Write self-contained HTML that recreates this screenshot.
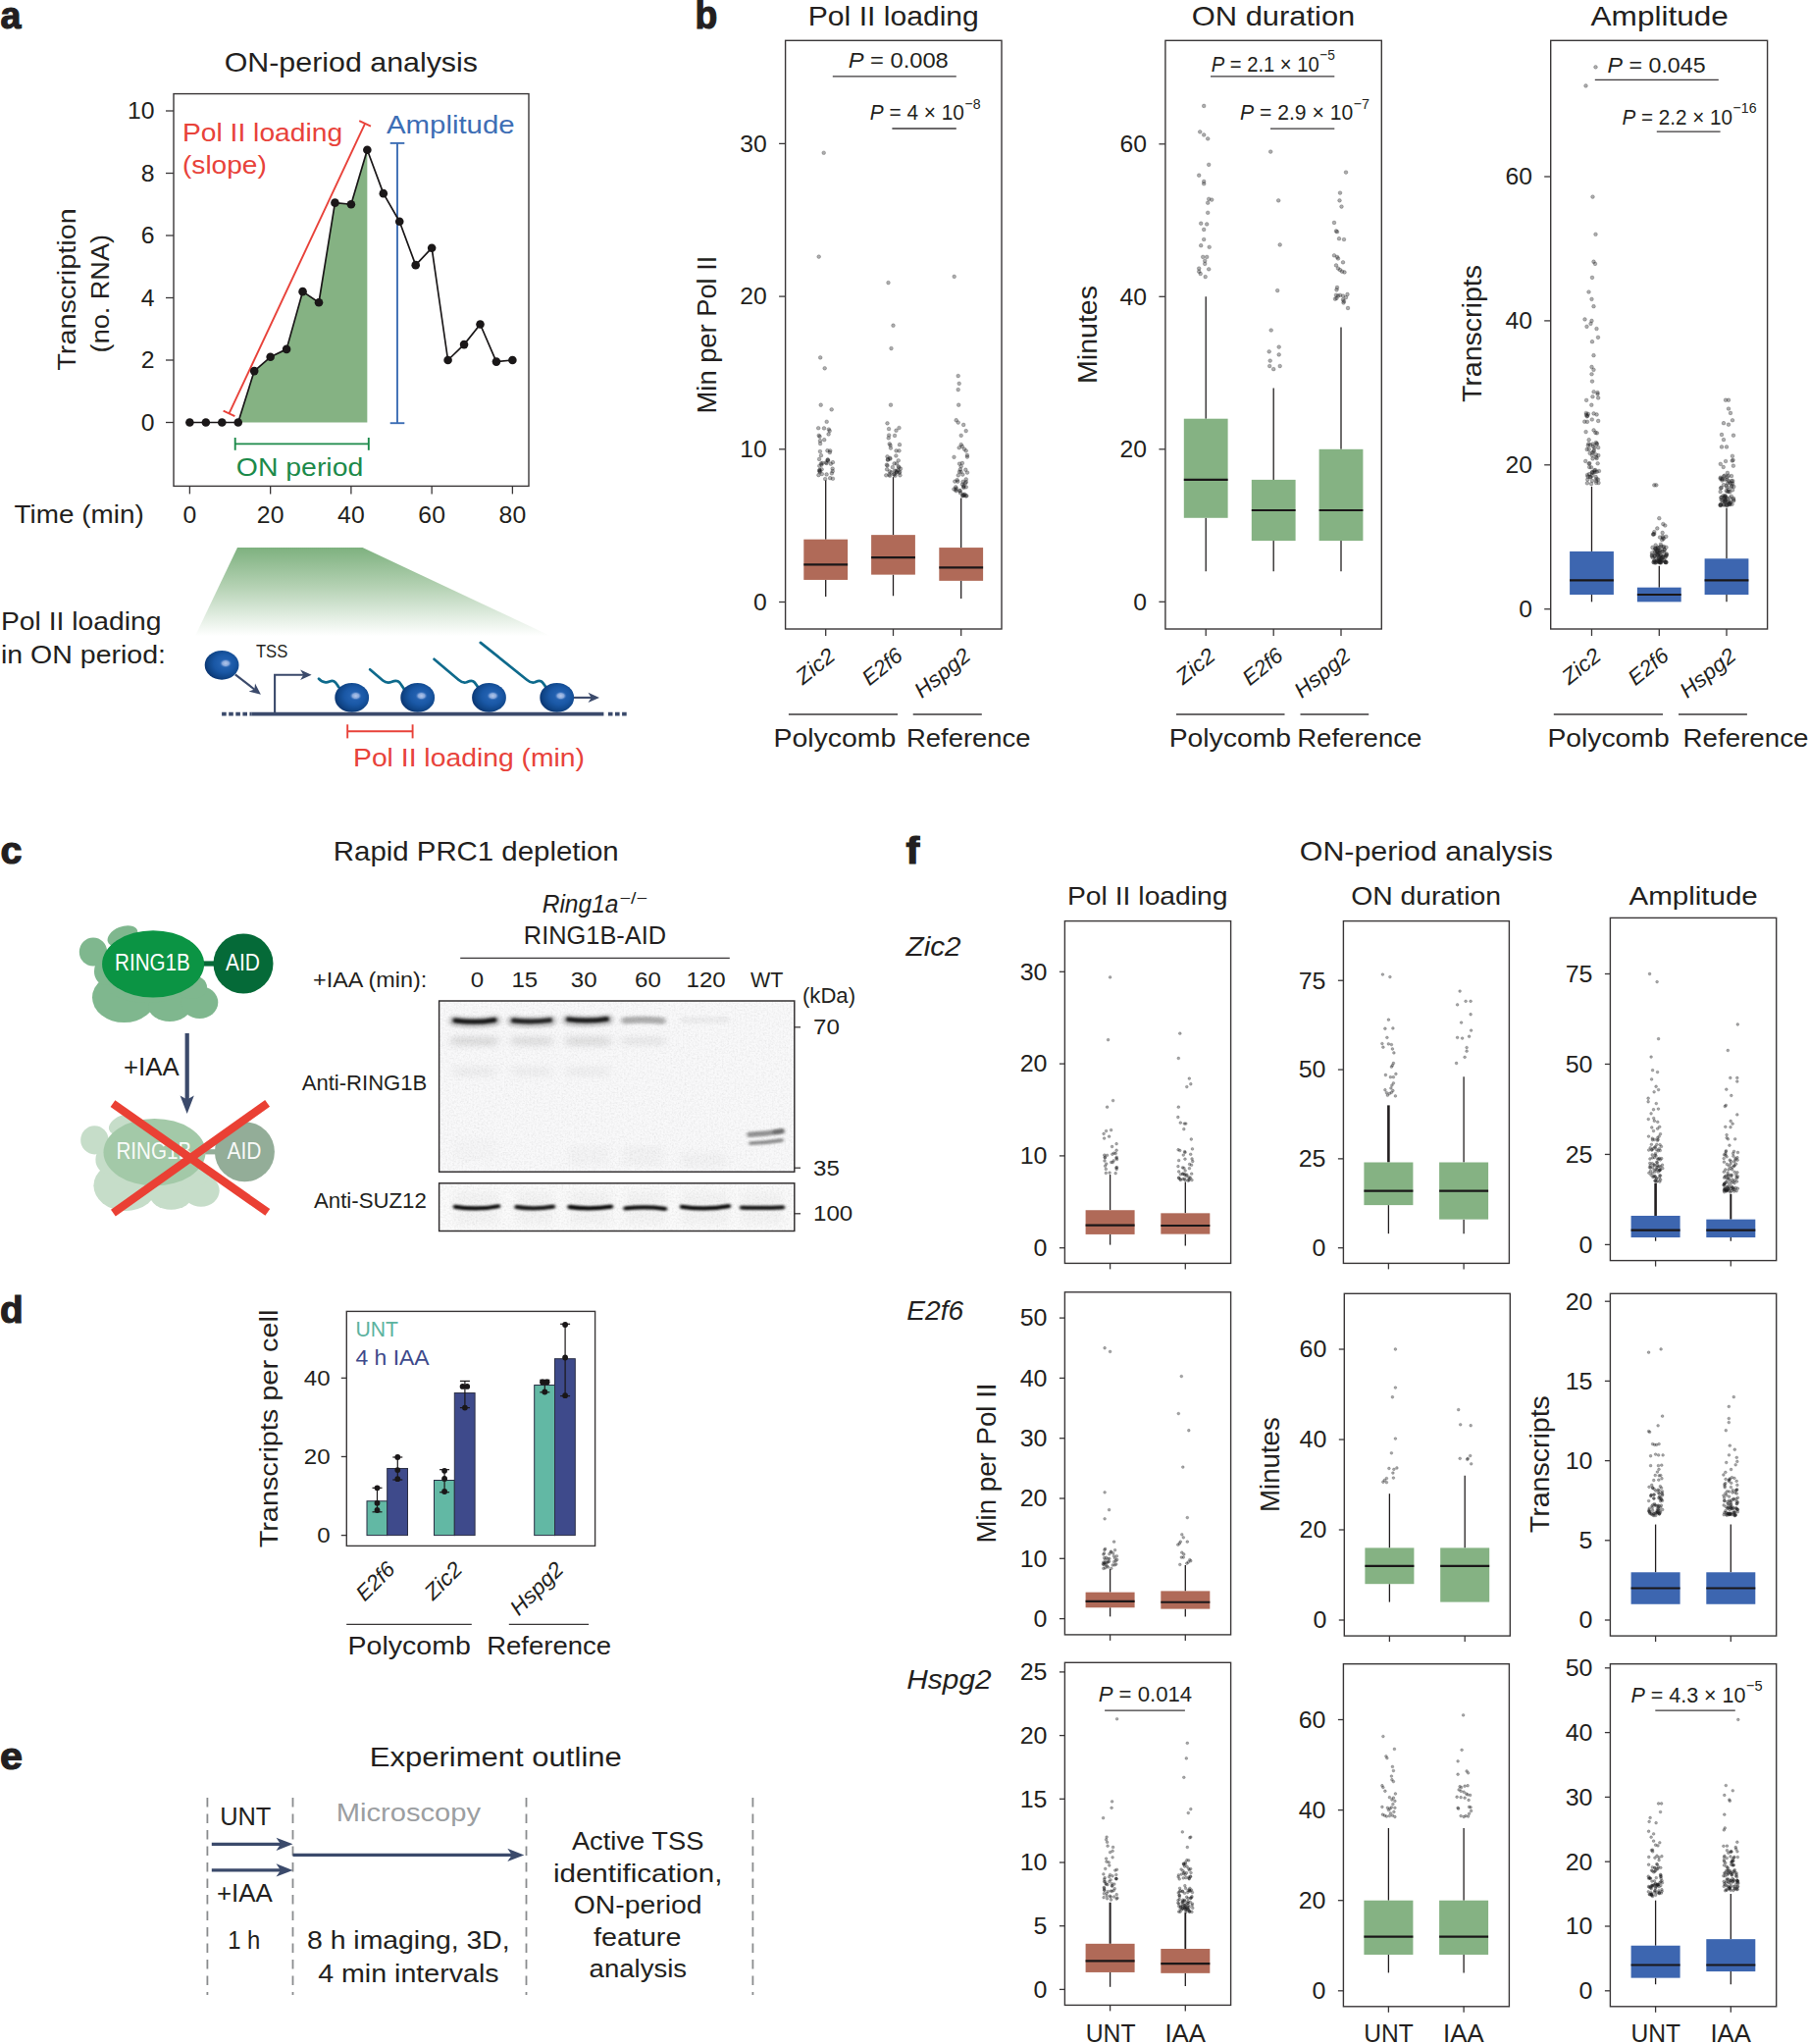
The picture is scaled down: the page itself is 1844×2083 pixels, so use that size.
<!DOCTYPE html>
<html lang="en"><head><meta charset="utf-8"><title>Figure</title>
<style>
html,body{margin:0;padding:0;background:#fff}
body{width:1844px;height:2083px;overflow:hidden}
svg{display:block;font-family:"Liberation Sans",sans-serif;fill:#231f20}
svg text{white-space:pre}
</style></head><body>
<svg width="1844" height="2083" viewBox="0 0 1844 2083">
<rect width="1844" height="2083" fill="#ffffff"/>
<text x="0.4" y="29.2" font-size="39.5" textLength="20.9" lengthAdjust="spacingAndGlyphs" font-weight="bold" stroke="#231f20" stroke-width="1.2">a</text>
<text x="228.7" y="73" font-size="28" textLength="258.3" lengthAdjust="spacingAndGlyphs">ON-period analysis</text>
<polygon points="242.75,430.5 242.75,430.5 259.2,378.11 275.65,363.82 292.1,355.89 308.55,297.15 325,308.26 341.45,206.66 357.9,208.25 374.35,152.69 374.35,430.5" fill="#85b283"/>
<rect x="177" y="95.6" width="362" height="399.8" fill="none" stroke="#3a3738" stroke-width="1.4"/>
<line x1="169" y1="430.5" x2="177" y2="430.5" stroke="#3a3738" stroke-width="1.3"/>
<text x="143.81" y="438.9" font-size="23.4" textLength="13.79" lengthAdjust="spacingAndGlyphs">0</text>
<line x1="169" y1="367" x2="177" y2="367" stroke="#3a3738" stroke-width="1.3"/>
<text x="143.81" y="375.4" font-size="23.4" textLength="13.79" lengthAdjust="spacingAndGlyphs">2</text>
<line x1="169" y1="303.5" x2="177" y2="303.5" stroke="#3a3738" stroke-width="1.3"/>
<text x="143.81" y="311.9" font-size="23.4" textLength="13.79" lengthAdjust="spacingAndGlyphs">4</text>
<line x1="169" y1="240" x2="177" y2="240" stroke="#3a3738" stroke-width="1.3"/>
<text x="143.81" y="248.4" font-size="23.4" textLength="13.79" lengthAdjust="spacingAndGlyphs">6</text>
<line x1="169" y1="176.5" x2="177" y2="176.5" stroke="#3a3738" stroke-width="1.3"/>
<text x="143.81" y="184.9" font-size="23.4" textLength="13.79" lengthAdjust="spacingAndGlyphs">8</text>
<line x1="169" y1="113" x2="177" y2="113" stroke="#3a3738" stroke-width="1.3"/>
<text x="130.01" y="121.4" font-size="23.4" textLength="27.59" lengthAdjust="spacingAndGlyphs">10</text>
<line x1="193.4" y1="495.4" x2="193.4" y2="503.4" stroke="#3a3738" stroke-width="1.3"/>
<text x="186.5" y="532.6" font-size="23.4" textLength="13.79" lengthAdjust="spacingAndGlyphs">0</text>
<line x1="275.65" y1="495.4" x2="275.65" y2="503.4" stroke="#3a3738" stroke-width="1.3"/>
<text x="261.86" y="532.6" font-size="23.4" textLength="27.59" lengthAdjust="spacingAndGlyphs">20</text>
<line x1="357.9" y1="495.4" x2="357.9" y2="503.4" stroke="#3a3738" stroke-width="1.3"/>
<text x="344.11" y="532.6" font-size="23.4" textLength="27.59" lengthAdjust="spacingAndGlyphs">40</text>
<line x1="440.15" y1="495.4" x2="440.15" y2="503.4" stroke="#3a3738" stroke-width="1.3"/>
<text x="426.36" y="532.6" font-size="23.4" textLength="27.59" lengthAdjust="spacingAndGlyphs">60</text>
<line x1="522.4" y1="495.4" x2="522.4" y2="503.4" stroke="#3a3738" stroke-width="1.3"/>
<text x="508.61" y="532.6" font-size="23.4" textLength="27.59" lengthAdjust="spacingAndGlyphs">80</text>
<g transform="translate(77.3,295) rotate(-90)">
<text x="-82.65" y="0" font-size="26" textLength="165.3" lengthAdjust="spacingAndGlyphs">Transcription</text>
</g>
<g transform="translate(110.5,299.2) rotate(-90)">
<text x="-60.2" y="0" font-size="26" textLength="120.4" lengthAdjust="spacingAndGlyphs">(no. RNA)</text>
</g>
<text x="14.6" y="533.4" font-size="26.5" textLength="132.1" lengthAdjust="spacingAndGlyphs">Time (min)</text>
<line x1="233.5" y1="421.4" x2="372.1" y2="125.9" stroke="#e8423a" stroke-width="1.9"/>
<line x1="227.62" y1="418.64" x2="239.38" y2="424.16" stroke="#e8423a" stroke-width="1.9"/>
<line x1="366.22" y1="123.14" x2="377.98" y2="128.66" stroke="#e8423a" stroke-width="1.9"/>
<line x1="405" y1="145.9" x2="405" y2="431.2" stroke="#3d6eb5" stroke-width="1.9"/>
<line x1="397.7" y1="145.9" x2="412.3" y2="145.9" stroke="#3d6eb5" stroke-width="1.9"/>
<line x1="397.7" y1="431.2" x2="412.3" y2="431.2" stroke="#3d6eb5" stroke-width="1.9"/>
<line x1="239.7" y1="452.4" x2="375.8" y2="452.4" stroke="#1c8a4a" stroke-width="1.9"/>
<line x1="239.7" y1="446" x2="239.7" y2="458.8" stroke="#1c8a4a" stroke-width="1.9"/>
<line x1="375.8" y1="446" x2="375.8" y2="458.8" stroke="#1c8a4a" stroke-width="1.9"/>
<polyline points="193.4,430.5 209.85,430.5 226.3,430.5 242.75,430.5 259.2,378.11 275.65,363.82 292.1,355.89 308.55,297.15 325,308.26 341.45,206.66 357.9,208.25 374.35,152.69 390.8,197.14 407.25,225.71 423.7,270.16 440.15,252.7 456.6,367 473.05,351.12 489.5,330.49 505.95,368.59 522.4,367" fill="none" stroke="#1a1718" stroke-width="1.7" stroke-linejoin="round"/>
<g fill="#1a1718"><circle cx="193.4" cy="430.5" r="4.3"/><circle cx="209.85" cy="430.5" r="4.3"/><circle cx="226.3" cy="430.5" r="4.3"/><circle cx="242.75" cy="430.5" r="4.3"/><circle cx="259.2" cy="378.11" r="4.3"/><circle cx="275.65" cy="363.82" r="4.3"/><circle cx="292.1" cy="355.89" r="4.3"/><circle cx="308.55" cy="297.15" r="4.3"/><circle cx="325" cy="308.26" r="4.3"/><circle cx="341.45" cy="206.66" r="4.3"/><circle cx="357.9" cy="208.25" r="4.3"/><circle cx="374.35" cy="152.69" r="4.3"/><circle cx="390.8" cy="197.14" r="4.3"/><circle cx="407.25" cy="225.71" r="4.3"/><circle cx="423.7" cy="270.16" r="4.3"/><circle cx="440.15" cy="252.7" r="4.3"/><circle cx="456.6" cy="367" r="4.3"/><circle cx="473.05" cy="351.12" r="4.3"/><circle cx="489.5" cy="330.49" r="4.3"/><circle cx="505.95" cy="368.59" r="4.3"/><circle cx="522.4" cy="367" r="4.3"/></g>
<text x="186" y="144.1" font-size="26.3" textLength="163.1" lengthAdjust="spacingAndGlyphs" fill="#e8423a">Pol II loading</text>
<text x="186" y="177" font-size="26.3" textLength="85.8" lengthAdjust="spacingAndGlyphs" fill="#e8423a">(slope)</text>
<text x="394" y="135.7" font-size="26.3" textLength="130.6" lengthAdjust="spacingAndGlyphs" fill="#3d6eb5">Amplitude</text>
<text x="240.8" y="484.5" font-size="26.3" textLength="129.5" lengthAdjust="spacingAndGlyphs" fill="#1c8a4a">ON period</text>
<defs><linearGradient id="gtrap" x1="0" y1="0" x2="0" y2="1"><stop offset="0" stop-color="#7eb17f"/><stop offset="0.45" stop-color="#b5d2b4"/><stop offset="1" stop-color="#ffffff"/></linearGradient><radialGradient id="ball" cx="0.58" cy="0.44" r="0.6"><stop offset="0" stop-color="#2a68b8"/><stop offset="0.5" stop-color="#1a58a6"/><stop offset="0.8" stop-color="#104689"/><stop offset="1" stop-color="#0a3470"/></radialGradient><radialGradient id="hl"><stop offset="0" stop-color="#b4c8ea"/><stop offset="0.55" stop-color="#86a6da"/><stop offset="1" stop-color="#2a68b8" stop-opacity="0"/></radialGradient><marker id="arr" viewBox="0 0 10 10" refX="7" refY="5" markerWidth="5.2" markerHeight="5.2" orient="auto-start-reverse"><path d="M0 0.6L10 5L0 9.4L2.6 5z" fill="#3b4a6b"/></marker></defs>
<polygon points="242,558 369.6,558 561,648 199,648" fill="url(#gtrap)"/>
<text x="1" y="642" font-size="26.5" textLength="163.5" lengthAdjust="spacingAndGlyphs">Pol II loading</text>
<text x="1" y="675.5" font-size="26.5" textLength="168" lengthAdjust="spacingAndGlyphs">in ON period:</text>
<text x="260.9" y="669.9" font-size="17.5" textLength="32.4" lengthAdjust="spacingAndGlyphs">TSS</text>
<line x1="256.7" y1="727.6" x2="615.4" y2="727.6" stroke="#3b4a6b" stroke-width="3.8"/>
<line x1="226.1" y1="727.6" x2="256.7" y2="727.6" stroke="#3b4a6b" stroke-width="3.8" stroke-dasharray="4.6 2.5"/>
<line x1="619.9" y1="727.6" x2="639.5" y2="727.6" stroke="#3b4a6b" stroke-width="3.8" stroke-dasharray="4.6 2.5"/>
<path d="M280.1 726V687.8H310" fill="none" stroke="#3b4a6b" stroke-width="2.1"/>
<path d="M317.6 687.8L306.1 682.6L309.3 687.8L306.1 693z" fill="#3b4a6b"/>
<path d="M239.8 687.3L259.6 702.77" fill="none" stroke="#3b4a6b" stroke-width="2.1"/>
<path d="M265.9 707.7L260.04 696.52L259.36 702.59L253.64 704.72z" fill="#3b4a6b"/>
<path d="M583 710.9H603" fill="none" stroke="#3b4a6b" stroke-width="2.1"/>
<path d="M611 710.9L599.5 705.7L602.7 710.9L599.5 716.1z" fill="#3b4a6b"/>
<path d="M324.9 691.7Q328.2 695.6 332.5 695.3C336 695 337.5 692.8 340.3 694.2C343 695.6 343.6 698 345.5 700.5" fill="none" stroke="#0e6a8c" stroke-width="2.7" stroke-linecap="round" stroke-linejoin="round"/>
<path d="M377.1 682.3L390.3 693.5C393.5 696.2 396.5 696 399.5 694.8C402.5 693.5 405 693 407.3 695.5C409 697.5 410.3 700 412 702.5" fill="none" stroke="#0e6a8c" stroke-width="2.7" stroke-linecap="round" stroke-linejoin="round"/>
<path d="M442.5 671.8L467.4 692.7C470.5 695.3 473 696.3 475.5 695.3C478.5 694 481 692.6 483.3 695C485 696.8 486.3 699 488 701.5" fill="none" stroke="#0e6a8c" stroke-width="2.7" stroke-linecap="round" stroke-linejoin="round"/>
<path d="M489.8 654.9L537 692.7C540 695.2 542.5 696.3 545 695.3C548 694 550.5 692.6 552.6 695C554.3 696.8 555.6 699 557.3 701.5" fill="none" stroke="#0e6a8c" stroke-width="2.7" stroke-linecap="round" stroke-linejoin="round"/>
<ellipse cx="226.1" cy="677.8" rx="17.4" ry="14.9" fill="url(#ball)"/>
<ellipse cx="230.0" cy="676.0" rx="6.3" ry="4.6" fill="url(#hl)"/>
<ellipse cx="358.7" cy="710.9" rx="17.4" ry="14.9" fill="url(#ball)"/>
<ellipse cx="362.59999999999997" cy="709.1" rx="6.3" ry="4.6" fill="url(#hl)"/>
<ellipse cx="425.7" cy="710.9" rx="17.4" ry="14.9" fill="url(#ball)"/>
<ellipse cx="429.59999999999997" cy="709.1" rx="6.3" ry="4.6" fill="url(#hl)"/>
<ellipse cx="498.5" cy="710.9" rx="17.4" ry="14.9" fill="url(#ball)"/>
<ellipse cx="502.4" cy="709.1" rx="6.3" ry="4.6" fill="url(#hl)"/>
<ellipse cx="567.7" cy="710.9" rx="17.4" ry="14.9" fill="url(#ball)"/>
<ellipse cx="571.6" cy="709.1" rx="6.3" ry="4.6" fill="url(#hl)"/>
<line x1="354.2" y1="745.2" x2="420.6" y2="745.2" stroke="#e8423a" stroke-width="1.9"/>
<line x1="354.2" y1="738.3" x2="354.2" y2="752.4" stroke="#e8423a" stroke-width="1.9"/>
<line x1="420.6" y1="738.3" x2="420.6" y2="752.4" stroke="#e8423a" stroke-width="1.9"/>
<text x="360" y="781" font-size="26" textLength="236" lengthAdjust="spacingAndGlyphs" fill="#e8423a">Pol II loading (min)</text>
<text x="708.4" y="29.2" font-size="40" textLength="22.8" lengthAdjust="spacingAndGlyphs" font-weight="bold" stroke="#231f20" stroke-width="1.2">b</text>
<text x="823.8" y="26" font-size="28" textLength="174" lengthAdjust="spacingAndGlyphs">Pol II loading</text>
<rect x="800.6" y="41.3" width="220.4" height="599.7" fill="none" stroke="#3a3738" stroke-width="1.4"/>
<line x1="794.1" y1="613.5" x2="800.6" y2="613.5" stroke="#3a3738" stroke-width="1.3"/>
<text x="768.07" y="621.85" font-size="23.3" textLength="13.73" lengthAdjust="spacingAndGlyphs">0</text>
<line x1="794.1" y1="457.8" x2="800.6" y2="457.8" stroke="#3a3738" stroke-width="1.3"/>
<text x="754.33" y="466.15" font-size="23.3" textLength="27.47" lengthAdjust="spacingAndGlyphs">10</text>
<line x1="794.1" y1="302.1" x2="800.6" y2="302.1" stroke="#3a3738" stroke-width="1.3"/>
<text x="754.33" y="310.45" font-size="23.3" textLength="27.47" lengthAdjust="spacingAndGlyphs">20</text>
<line x1="794.1" y1="146.4" x2="800.6" y2="146.4" stroke="#3a3738" stroke-width="1.3"/>
<text x="754.33" y="154.75" font-size="23.3" textLength="27.47" lengthAdjust="spacingAndGlyphs">30</text>
<line x1="841.7" y1="641" x2="841.7" y2="648" stroke="#3a3738" stroke-width="1.3"/>
<g fill="#1d1d1f" fill-opacity="0.36" stroke="#1d1d1f" stroke-opacity="0.27" stroke-width="0.9"><circle cx="839.7" cy="155.74" r="1.85"/><circle cx="834.7" cy="261.62" r="1.85"/><circle cx="836.2" cy="364.38" r="1.85"/><circle cx="840.7" cy="375.28" r="1.85"/><circle cx="836.7" cy="412.65" r="1.85"/><circle cx="847.7" cy="417.32" r="1.85"/><circle cx="842.7" cy="429.77" r="1.85"/><circle cx="845.7" cy="439.12" r="1.85"/><circle cx="834.7" cy="443.79" r="1.85"/><circle cx="846.2" cy="459.36" r="1.85"/><circle cx="842.6" cy="472.06" r="1.85"/><circle cx="841.82" cy="471.38" r="1.85"/><circle cx="836.97" cy="464.13" r="1.85"/><circle cx="843.65" cy="468.84" r="1.85"/><circle cx="835.61" cy="444.8" r="1.85"/><circle cx="835.56" cy="478.81" r="1.85"/><circle cx="844.6" cy="442.45" r="1.85"/><circle cx="848.93" cy="487.74" r="1.85"/><circle cx="843.43" cy="459.2" r="1.85"/><circle cx="834.43" cy="484.14" r="1.85"/><circle cx="835.09" cy="467.88" r="1.85"/><circle cx="837.83" cy="483.03" r="1.85"/><circle cx="841.16" cy="488.08" r="1.85"/><circle cx="846.84" cy="472.66" r="1.85"/><circle cx="843.8" cy="468.42" r="1.85"/><circle cx="844.14" cy="469.53" r="1.85"/><circle cx="838.37" cy="471.81" r="1.85"/><circle cx="844.82" cy="437.54" r="1.85"/><circle cx="837.64" cy="478.33" r="1.85"/><circle cx="835.25" cy="479.38" r="1.85"/><circle cx="840.21" cy="448.2" r="1.85"/><circle cx="840" cy="436.4" r="1.85"/><circle cx="834.21" cy="436.27" r="1.85"/><circle cx="847.85" cy="482.34" r="1.85"/><circle cx="848.91" cy="471.15" r="1.85"/><circle cx="835.3" cy="474.74" r="1.85"/><circle cx="845.88" cy="461.12" r="1.85"/><circle cx="835.51" cy="480.13" r="1.85"/><circle cx="848.66" cy="477.61" r="1.85"/><circle cx="835.97" cy="449.17" r="1.85"/><circle cx="835.72" cy="481.01" r="1.85"/><circle cx="846.16" cy="487.21" r="1.85"/><circle cx="842.59" cy="483.46" r="1.85"/><circle cx="837.06" cy="472.32" r="1.85"/><circle cx="836.16" cy="452.05" r="1.85"/><circle cx="835.95" cy="460.02" r="1.85"/><circle cx="837.39" cy="473.64" r="1.85"/><circle cx="848.76" cy="480.13" r="1.85"/></g>
<line x1="841.7" y1="489.41" x2="841.7" y2="549.66" stroke="#231f20" stroke-width="1.3"/>
<line x1="841.7" y1="590.92" x2="841.7" y2="608.05" stroke="#231f20" stroke-width="1.3"/>
<rect x="819.3" y="549.66" width="44.8" height="41.26" fill="#b06a58"/>
<line x1="819.3" y1="575.35" x2="864.1" y2="575.35" stroke="#1a1718" stroke-width="2.2"/>
<line x1="910.5" y1="641" x2="910.5" y2="648" stroke="#3a3738" stroke-width="1.3"/>
<g fill="#1d1d1f" fill-opacity="0.36" stroke="#1d1d1f" stroke-opacity="0.27" stroke-width="0.9"><circle cx="905.5" cy="288.09" r="1.85"/><circle cx="910.5" cy="331.68" r="1.85"/><circle cx="908.5" cy="355.04" r="1.85"/><circle cx="908" cy="412.65" r="1.85"/><circle cx="904.5" cy="431.33" r="1.85"/><circle cx="916.5" cy="436" r="1.85"/><circle cx="917" cy="453.13" r="1.85"/><circle cx="907.56" cy="453.77" r="1.85"/><circle cx="906.16" cy="443.48" r="1.85"/><circle cx="915.82" cy="475.41" r="1.85"/><circle cx="904.5" cy="465.3" r="1.85"/><circle cx="906.87" cy="480.44" r="1.85"/><circle cx="907.93" cy="456.56" r="1.85"/><circle cx="904.1" cy="478.29" r="1.85"/><circle cx="911.74" cy="483.23" r="1.85"/><circle cx="912.02" cy="479.69" r="1.85"/><circle cx="909.8" cy="476.11" r="1.85"/><circle cx="911.62" cy="472.33" r="1.85"/><circle cx="905.74" cy="446.32" r="1.85"/><circle cx="916.63" cy="481.83" r="1.85"/><circle cx="906.74" cy="452.31" r="1.85"/><circle cx="914.09" cy="481" r="1.85"/><circle cx="917.25" cy="480.84" r="1.85"/><circle cx="912.05" cy="443.92" r="1.85"/><circle cx="904.56" cy="474.52" r="1.85"/><circle cx="917.44" cy="484.29" r="1.85"/><circle cx="913.57" cy="479.81" r="1.85"/><circle cx="915.36" cy="479.34" r="1.85"/><circle cx="907.4" cy="467.6" r="1.85"/><circle cx="913.81" cy="481.34" r="1.85"/><circle cx="906.43" cy="483.68" r="1.85"/><circle cx="915.79" cy="469.29" r="1.85"/><circle cx="907.2" cy="466.73" r="1.85"/><circle cx="906.06" cy="437.1" r="1.85"/><circle cx="907.04" cy="484.73" r="1.85"/><circle cx="903.91" cy="473.7" r="1.85"/><circle cx="908.53" cy="481.32" r="1.85"/><circle cx="904.97" cy="468.72" r="1.85"/><circle cx="916.36" cy="476.4" r="1.85"/><circle cx="913.37" cy="464.48" r="1.85"/><circle cx="905.11" cy="468.16" r="1.85"/><circle cx="903.27" cy="484.36" r="1.85"/><circle cx="913.51" cy="438.7" r="1.85"/><circle cx="912.54" cy="484.63" r="1.85"/><circle cx="913.96" cy="472.39" r="1.85"/><circle cx="917.99" cy="477.66" r="1.85"/><circle cx="911.19" cy="483.54" r="1.85"/><circle cx="916.5" cy="459.36" r="1.85"/><circle cx="913.56" cy="459.36" r="1.85"/></g>
<line x1="910.5" y1="486.14" x2="910.5" y2="545.15" stroke="#231f20" stroke-width="1.3"/>
<line x1="910.5" y1="585.63" x2="910.5" y2="607.27" stroke="#231f20" stroke-width="1.3"/>
<rect x="888.1" y="545.15" width="44.8" height="40.48" fill="#b06a58"/>
<line x1="888.1" y1="568.04" x2="932.9" y2="568.04" stroke="#1a1718" stroke-width="2.2"/>
<line x1="979.7" y1="641" x2="979.7" y2="648" stroke="#3a3738" stroke-width="1.3"/>
<g fill="#1d1d1f" fill-opacity="0.36" stroke="#1d1d1f" stroke-opacity="0.27" stroke-width="0.9"><circle cx="972.7" cy="281.86" r="1.85"/><circle cx="976.7" cy="383.06" r="1.85"/><circle cx="977.7" cy="390.85" r="1.85"/><circle cx="976.7" cy="397.08" r="1.85"/><circle cx="977.2" cy="412.65" r="1.85"/><circle cx="974.7" cy="428.22" r="1.85"/><circle cx="976.7" cy="430.55" r="1.85"/><circle cx="982.2" cy="432.89" r="1.85"/><circle cx="984.7" cy="439.12" r="1.85"/><circle cx="979.7" cy="443.79" r="1.85"/><circle cx="979.7" cy="453.13" r="1.85"/><circle cx="977.7" cy="456.24" r="1.85"/><circle cx="984.7" cy="459.36" r="1.85"/><circle cx="985.93" cy="465.57" r="1.85"/><circle cx="982.48" cy="494.93" r="1.85"/><circle cx="984.06" cy="492.2" r="1.85"/><circle cx="980.79" cy="454.91" r="1.85"/><circle cx="977.94" cy="480.87" r="1.85"/><circle cx="981.33" cy="483.62" r="1.85"/><circle cx="981.79" cy="503.92" r="1.85"/><circle cx="978.03" cy="472.6" r="1.85"/><circle cx="980.91" cy="471.95" r="1.85"/><circle cx="984.78" cy="491.15" r="1.85"/><circle cx="983.45" cy="503.82" r="1.85"/><circle cx="981.22" cy="505.29" r="1.85"/><circle cx="975.65" cy="489.22" r="1.85"/><circle cx="979.66" cy="475.28" r="1.85"/><circle cx="986.01" cy="481.58" r="1.85"/><circle cx="972.37" cy="498.48" r="1.85"/><circle cx="982.37" cy="496.87" r="1.85"/><circle cx="974.74" cy="500.25" r="1.85"/><circle cx="978.83" cy="478.35" r="1.85"/><circle cx="982.19" cy="495.89" r="1.85"/><circle cx="978.66" cy="500.38" r="1.85"/><circle cx="985.91" cy="463.94" r="1.85"/><circle cx="980.95" cy="493.6" r="1.85"/><circle cx="974.24" cy="496.29" r="1.85"/><circle cx="984.76" cy="488.44" r="1.85"/><circle cx="982.87" cy="457.55" r="1.85"/><circle cx="974.74" cy="497.74" r="1.85"/><circle cx="976.33" cy="490.68" r="1.85"/><circle cx="978.41" cy="499.88" r="1.85"/><circle cx="979.61" cy="480.82" r="1.85"/><circle cx="984.79" cy="496.33" r="1.85"/><circle cx="973.32" cy="490.59" r="1.85"/><circle cx="985.29" cy="505.25" r="1.85"/><circle cx="982.83" cy="504.98" r="1.85"/><circle cx="976.84" cy="484.35" r="1.85"/><circle cx="972.49" cy="465.79" r="1.85"/><circle cx="979.02" cy="502.32" r="1.85"/><circle cx="984.65" cy="505.42" r="1.85"/><circle cx="974.31" cy="499.1" r="1.85"/><circle cx="981.64" cy="504.83" r="1.85"/><circle cx="981.65" cy="490.87" r="1.85"/><circle cx="984.31" cy="478.72" r="1.85"/></g>
<line x1="979.7" y1="507.62" x2="979.7" y2="558.07" stroke="#231f20" stroke-width="1.3"/>
<line x1="979.7" y1="591.86" x2="979.7" y2="610.07" stroke="#231f20" stroke-width="1.3"/>
<rect x="957.3" y="558.07" width="44.8" height="33.79" fill="#b06a58"/>
<line x1="957.3" y1="578.31" x2="1002.1" y2="578.31" stroke="#1a1718" stroke-width="2.2"/>
<text x="864.7" y="68.5" font-size="21.5"><tspan font-style="italic" textLength="15.81" lengthAdjust="spacingAndGlyphs">P</tspan><tspan x="880.51" textLength="86.29" lengthAdjust="spacingAndGlyphs"> = 0.008</tspan></text>
<line x1="848.8" y1="77.8" x2="974.8" y2="77.8" stroke="#3a3738" stroke-width="1.3"/>
<text x="886.8" y="122.3" font-size="21.5"><tspan font-style="italic" textLength="13.9" lengthAdjust="spacingAndGlyphs">P</tspan><tspan x="900.7" textLength="82.27" lengthAdjust="spacingAndGlyphs"> = 4 × 10</tspan><tspan x="983.47" dy="-11.8" font-size="15.26" textLength="16.13" lengthAdjust="spacingAndGlyphs">−8</tspan></text>
<line x1="909.4" y1="131" x2="974.8" y2="131" stroke="#3a3738" stroke-width="1.3"/>
<g transform="translate(730.1,341) rotate(-90)">
<text x="-80.4" y="0" font-size="27" textLength="160.8" lengthAdjust="spacingAndGlyphs">Min per Pol II</text>
</g>
<g transform="translate(852.9,670.9) rotate(-38.8)">
<text x="-44" y="0" font-size="22" textLength="44" lengthAdjust="spacingAndGlyphs" font-style="italic">Zic2</text>
</g>
<g transform="translate(921.7,670.9) rotate(-38.8)">
<text x="-45.5" y="0" font-size="22" textLength="45.5" lengthAdjust="spacingAndGlyphs" font-style="italic">E2f6</text>
</g>
<g transform="translate(990.9,670.9) rotate(-38.8)">
<text x="-66" y="0" font-size="22" textLength="66" lengthAdjust="spacingAndGlyphs" font-style="italic">Hspg2</text>
</g>
<line x1="803.9" y1="728" x2="915" y2="728" stroke="#3a3738" stroke-width="1.3"/>
<line x1="930.7" y1="728" x2="1000.8" y2="728" stroke="#3a3738" stroke-width="1.3"/>
<text x="788.4" y="760.8" font-size="26" textLength="125" lengthAdjust="spacingAndGlyphs">Polycomb</text>
<text x="924" y="760.8" font-size="26" textLength="126.5" lengthAdjust="spacingAndGlyphs">Reference</text>
<text x="1214.8" y="26" font-size="28" textLength="166.5" lengthAdjust="spacingAndGlyphs">ON duration</text>
<rect x="1187.9" y="41.3" width="220.4" height="599.7" fill="none" stroke="#3a3738" stroke-width="1.4"/>
<line x1="1181.4" y1="613.3" x2="1187.9" y2="613.3" stroke="#3a3738" stroke-width="1.3"/>
<text x="1155.37" y="621.65" font-size="23.3" textLength="13.73" lengthAdjust="spacingAndGlyphs">0</text>
<line x1="1181.4" y1="457.8" x2="1187.9" y2="457.8" stroke="#3a3738" stroke-width="1.3"/>
<text x="1141.63" y="466.15" font-size="23.3" textLength="27.47" lengthAdjust="spacingAndGlyphs">20</text>
<line x1="1181.4" y1="302.3" x2="1187.9" y2="302.3" stroke="#3a3738" stroke-width="1.3"/>
<text x="1141.63" y="310.65" font-size="23.3" textLength="27.47" lengthAdjust="spacingAndGlyphs">40</text>
<line x1="1181.4" y1="146.8" x2="1187.9" y2="146.8" stroke="#3a3738" stroke-width="1.3"/>
<text x="1141.63" y="155.15" font-size="23.3" textLength="27.47" lengthAdjust="spacingAndGlyphs">60</text>
<line x1="1229.2" y1="641" x2="1229.2" y2="648" stroke="#3a3738" stroke-width="1.3"/>
<g fill="#1d1d1f" fill-opacity="0.36" stroke="#1d1d1f" stroke-opacity="0.27" stroke-width="0.9"><circle cx="1227.2" cy="107.92" r="1.85"/><circle cx="1223.2" cy="134.36" r="1.85"/><circle cx="1227.2" cy="137.47" r="1.85"/><circle cx="1231.2" cy="141.36" r="1.85"/><circle cx="1232.2" cy="167.79" r="1.85"/><circle cx="1222.2" cy="178.68" r="1.85"/><circle cx="1227.2" cy="184.9" r="1.85"/><circle cx="1227.2" cy="187.23" r="1.85"/><circle cx="1232.2" cy="202.78" r="1.85"/><circle cx="1235.2" cy="203.56" r="1.85"/><circle cx="1231.2" cy="206.67" r="1.85"/><circle cx="1231.2" cy="216.77" r="1.85"/><circle cx="1224.2" cy="227.66" r="1.85"/><circle cx="1230.2" cy="228.44" r="1.85"/><circle cx="1227.2" cy="233.88" r="1.85"/><circle cx="1227.2" cy="243.99" r="1.85"/><circle cx="1224.2" cy="250.21" r="1.85"/><circle cx="1232.7" cy="251.76" r="1.85"/><circle cx="1226.2" cy="261.87" r="1.85"/><circle cx="1230.2" cy="261.87" r="1.85"/><circle cx="1228.2" cy="265.76" r="1.85"/><circle cx="1228.2" cy="268.87" r="1.85"/><circle cx="1222.2" cy="273.53" r="1.85"/><circle cx="1232.2" cy="274.31" r="1.85"/><circle cx="1222.2" cy="276.64" r="1.85"/><circle cx="1223.7" cy="278.97" r="1.85"/><circle cx="1228.7" cy="282.08" r="1.85"/></g>
<line x1="1229.2" y1="302.3" x2="1229.2" y2="426.7" stroke="#231f20" stroke-width="1.3"/>
<line x1="1229.2" y1="527.77" x2="1229.2" y2="582.2" stroke="#231f20" stroke-width="1.3"/>
<rect x="1206.8" y="426.7" width="44.8" height="101.08" fill="#85b283"/>
<line x1="1206.8" y1="488.9" x2="1251.6" y2="488.9" stroke="#1a1718" stroke-width="2.2"/>
<line x1="1298.2" y1="641" x2="1298.2" y2="648" stroke="#3a3738" stroke-width="1.3"/>
<g fill="#1d1d1f" fill-opacity="0.36" stroke="#1d1d1f" stroke-opacity="0.27" stroke-width="0.9"><circle cx="1295.2" cy="154.57" r="1.85"/><circle cx="1303.2" cy="204.33" r="1.85"/><circle cx="1304.7" cy="249.43" r="1.85"/><circle cx="1302.2" cy="296.08" r="1.85"/><circle cx="1295.7" cy="336.51" r="1.85"/><circle cx="1303.7" cy="353.61" r="1.85"/><circle cx="1293.7" cy="358.28" r="1.85"/><circle cx="1303.7" cy="361.39" r="1.85"/><circle cx="1294.7" cy="367.61" r="1.85"/><circle cx="1294.2" cy="373.05" r="1.85"/><circle cx="1304.7" cy="373.05" r="1.85"/><circle cx="1298.2" cy="376.16" r="1.85"/></g>
<line x1="1298.2" y1="395.6" x2="1298.2" y2="488.9" stroke="#231f20" stroke-width="1.3"/>
<line x1="1298.2" y1="551.1" x2="1298.2" y2="582.2" stroke="#231f20" stroke-width="1.3"/>
<rect x="1275.8" y="488.9" width="44.8" height="62.2" fill="#85b283"/>
<line x1="1275.8" y1="520" x2="1320.6" y2="520" stroke="#1a1718" stroke-width="2.2"/>
<line x1="1367" y1="641" x2="1367" y2="648" stroke="#3a3738" stroke-width="1.3"/>
<g fill="#1d1d1f" fill-opacity="0.36" stroke="#1d1d1f" stroke-opacity="0.27" stroke-width="0.9"><circle cx="1372" cy="175.57" r="1.85"/><circle cx="1366" cy="196.56" r="1.85"/><circle cx="1365.5" cy="204.33" r="1.85"/><circle cx="1367.5" cy="210.55" r="1.85"/><circle cx="1360" cy="226.88" r="1.85"/><circle cx="1362" cy="235.43" r="1.85"/><circle cx="1363" cy="236.21" r="1.85"/><circle cx="1365" cy="243.21" r="1.85"/><circle cx="1370" cy="243.99" r="1.85"/><circle cx="1360" cy="260.31" r="1.85"/><circle cx="1363" cy="261.87" r="1.85"/><circle cx="1364" cy="263.42" r="1.85"/><circle cx="1369" cy="267.31" r="1.85"/><circle cx="1362" cy="270.42" r="1.85"/><circle cx="1364" cy="273.53" r="1.85"/><circle cx="1366" cy="275.09" r="1.85"/><circle cx="1368" cy="276.64" r="1.85"/><circle cx="1370.5" cy="277.42" r="1.85"/><circle cx="1363" cy="292.97" r="1.85"/><circle cx="1362.5" cy="295.3" r="1.85"/><circle cx="1362" cy="300.74" r="1.85"/><circle cx="1364" cy="301.52" r="1.85"/><circle cx="1366" cy="300.74" r="1.85"/><circle cx="1369" cy="301.52" r="1.85"/><circle cx="1373.5" cy="299.97" r="1.85"/><circle cx="1372" cy="303.08" r="1.85"/><circle cx="1361" cy="304.63" r="1.85"/><circle cx="1362.5" cy="303.85" r="1.85"/><circle cx="1369" cy="305.41" r="1.85"/><circle cx="1370" cy="306.96" r="1.85"/><circle cx="1369.5" cy="308.52" r="1.85"/><circle cx="1374" cy="313.96" r="1.85"/></g>
<line x1="1367" y1="333.4" x2="1367" y2="457.8" stroke="#231f20" stroke-width="1.3"/>
<line x1="1367" y1="551.1" x2="1367" y2="582.2" stroke="#231f20" stroke-width="1.3"/>
<rect x="1344.6" y="457.8" width="44.8" height="93.3" fill="#85b283"/>
<line x1="1344.6" y1="520" x2="1389.4" y2="520" stroke="#1a1718" stroke-width="2.2"/>
<text x="1234.7" y="72.5" font-size="21.5"><tspan font-style="italic" textLength="13.47" lengthAdjust="spacingAndGlyphs">P</tspan><tspan x="1248.17" textLength="96.52" lengthAdjust="spacingAndGlyphs"> = 2.1 × 10</tspan><tspan x="1345.19" dy="-11.8" font-size="15.26" textLength="15.61" lengthAdjust="spacingAndGlyphs">−5</tspan></text>
<line x1="1234" y1="77.8" x2="1360.3" y2="77.8" stroke="#3a3738" stroke-width="1.3"/>
<text x="1264" y="122.3" font-size="21.5"><tspan font-style="italic" textLength="14.1" lengthAdjust="spacingAndGlyphs">P</tspan><tspan x="1278.1" textLength="101.04" lengthAdjust="spacingAndGlyphs"> = 2.9 × 10</tspan><tspan x="1379.64" dy="-11.8" font-size="15.26" textLength="16.36" lengthAdjust="spacingAndGlyphs">−7</tspan></text>
<line x1="1295" y1="131.1" x2="1360.3" y2="131.1" stroke="#3a3738" stroke-width="1.3"/>
<g transform="translate(1117.6,341) rotate(-90)">
<text x="-50" y="0" font-size="27" textLength="100" lengthAdjust="spacingAndGlyphs">Minutes</text>
</g>
<g transform="translate(1240.4,670.9) rotate(-38.8)">
<text x="-44" y="0" font-size="22" textLength="44" lengthAdjust="spacingAndGlyphs" font-style="italic">Zic2</text>
</g>
<g transform="translate(1309.4,670.9) rotate(-38.8)">
<text x="-45.5" y="0" font-size="22" textLength="45.5" lengthAdjust="spacingAndGlyphs" font-style="italic">E2f6</text>
</g>
<g transform="translate(1378.2,670.9) rotate(-38.8)">
<text x="-66" y="0" font-size="22" textLength="66" lengthAdjust="spacingAndGlyphs" font-style="italic">Hspg2</text>
</g>
<line x1="1199" y1="728" x2="1309.5" y2="728" stroke="#3a3738" stroke-width="1.3"/>
<line x1="1325.5" y1="728" x2="1395.2" y2="728" stroke="#3a3738" stroke-width="1.3"/>
<text x="1191.7" y="760.8" font-size="26" textLength="124.3" lengthAdjust="spacingAndGlyphs">Polycomb</text>
<text x="1322.2" y="760.8" font-size="26" textLength="127.2" lengthAdjust="spacingAndGlyphs">Reference</text>
<text x="1621.6" y="26" font-size="28" textLength="140.2" lengthAdjust="spacingAndGlyphs">Amplitude</text>
<rect x="1580.7" y="41.3" width="220.9" height="599.7" fill="none" stroke="#3a3738" stroke-width="1.4"/>
<line x1="1574.2" y1="620.7" x2="1580.7" y2="620.7" stroke="#3a3738" stroke-width="1.3"/>
<text x="1548.17" y="629.05" font-size="23.3" textLength="13.73" lengthAdjust="spacingAndGlyphs">0</text>
<line x1="1574.2" y1="473.8" x2="1580.7" y2="473.8" stroke="#3a3738" stroke-width="1.3"/>
<text x="1534.43" y="482.15" font-size="23.3" textLength="27.47" lengthAdjust="spacingAndGlyphs">20</text>
<line x1="1574.2" y1="326.9" x2="1580.7" y2="326.9" stroke="#3a3738" stroke-width="1.3"/>
<text x="1534.43" y="335.25" font-size="23.3" textLength="27.47" lengthAdjust="spacingAndGlyphs">40</text>
<line x1="1574.2" y1="180" x2="1580.7" y2="180" stroke="#3a3738" stroke-width="1.3"/>
<text x="1534.43" y="188.35" font-size="23.3" textLength="27.47" lengthAdjust="spacingAndGlyphs">60</text>
<line x1="1622.5" y1="641" x2="1622.5" y2="648" stroke="#3a3738" stroke-width="1.3"/>
<g fill="#1d1d1f" fill-opacity="0.36" stroke="#1d1d1f" stroke-opacity="0.27" stroke-width="0.9"><circle cx="1626.5" cy="68.36" r="1.85"/><circle cx="1616.5" cy="87.45" r="1.85"/><circle cx="1623.5" cy="200.57" r="1.85"/><circle cx="1626.5" cy="238.76" r="1.85"/><circle cx="1624.5" cy="266.67" r="1.85"/><circle cx="1626" cy="268.87" r="1.85"/><circle cx="1623" cy="282.83" r="1.85"/><circle cx="1619.5" cy="297.52" r="1.85"/><circle cx="1622.5" cy="304.87" r="1.85"/><circle cx="1624.5" cy="312.21" r="1.85"/><circle cx="1615.5" cy="325.43" r="1.85"/><circle cx="1622.5" cy="326.9" r="1.85"/><circle cx="1621.5" cy="329.84" r="1.85"/><circle cx="1617.5" cy="332.78" r="1.85"/><circle cx="1627.5" cy="334.98" r="1.85"/><circle cx="1629" cy="343.79" r="1.85"/><circle cx="1623" cy="348.2" r="1.85"/><circle cx="1624.5" cy="362.16" r="1.85"/><circle cx="1622.5" cy="373.91" r="1.85"/><circle cx="1624.5" cy="376.85" r="1.85"/><circle cx="1622.5" cy="381.25" r="1.85"/><circle cx="1623" cy="388.6" r="1.85"/><circle cx="1617.99" cy="429.79" r="1.85"/><circle cx="1617.68" cy="457.95" r="1.85"/><circle cx="1622.08" cy="493.03" r="1.85"/><circle cx="1617.69" cy="424.32" r="1.85"/><circle cx="1620.19" cy="476.04" r="1.85"/><circle cx="1622.81" cy="427.49" r="1.85"/><circle cx="1626.34" cy="440.88" r="1.85"/><circle cx="1626.88" cy="465.95" r="1.85"/><circle cx="1628.99" cy="488.58" r="1.85"/><circle cx="1616.95" cy="422.71" r="1.85"/><circle cx="1624.38" cy="460.19" r="1.85"/><circle cx="1623.53" cy="467.46" r="1.85"/><circle cx="1629.16" cy="405.45" r="1.85"/><circle cx="1624.77" cy="459.15" r="1.85"/><circle cx="1625.83" cy="480.94" r="1.85"/><circle cx="1624.62" cy="399.23" r="1.85"/><circle cx="1618.2" cy="423.64" r="1.85"/><circle cx="1626.86" cy="451.02" r="1.85"/><circle cx="1628.65" cy="472.26" r="1.85"/><circle cx="1616.24" cy="469.92" r="1.85"/><circle cx="1623.25" cy="461.45" r="1.85"/><circle cx="1622.31" cy="412.72" r="1.85"/><circle cx="1627.14" cy="492.04" r="1.85"/><circle cx="1627" cy="489.97" r="1.85"/><circle cx="1620.03" cy="483.13" r="1.85"/><circle cx="1617.11" cy="407.81" r="1.85"/><circle cx="1622.75" cy="484.72" r="1.85"/><circle cx="1627.6" cy="422.47" r="1.85"/><circle cx="1629.19" cy="428.92" r="1.85"/><circle cx="1629.24" cy="456.08" r="1.85"/><circle cx="1618.32" cy="488.65" r="1.85"/><circle cx="1619.35" cy="452.24" r="1.85"/><circle cx="1624.58" cy="421.4" r="1.85"/><circle cx="1627.65" cy="452.69" r="1.85"/><circle cx="1619.68" cy="448.2" r="1.85"/><circle cx="1627.68" cy="467.07" r="1.85"/><circle cx="1627.76" cy="480.71" r="1.85"/><circle cx="1623.59" cy="452.52" r="1.85"/><circle cx="1623.04" cy="481.21" r="1.85"/><circle cx="1624.08" cy="454.92" r="1.85"/><circle cx="1629.54" cy="492.07" r="1.85"/><circle cx="1621.01" cy="453.47" r="1.85"/><circle cx="1623.44" cy="404.26" r="1.85"/><circle cx="1625.36" cy="456.25" r="1.85"/><circle cx="1623.08" cy="489.86" r="1.85"/><circle cx="1629.35" cy="464.07" r="1.85"/><circle cx="1622.1" cy="476.27" r="1.85"/><circle cx="1621.51" cy="486.12" r="1.85"/><circle cx="1628.51" cy="400.03" r="1.85"/><circle cx="1619.76" cy="457.81" r="1.85"/><circle cx="1624.27" cy="481.87" r="1.85"/><circle cx="1626.69" cy="485.96" r="1.85"/><circle cx="1617.91" cy="492.36" r="1.85"/><circle cx="1625.31" cy="479.36" r="1.85"/><circle cx="1620.33" cy="472.12" r="1.85"/><circle cx="1616.57" cy="440.11" r="1.85"/><circle cx="1616.84" cy="420.98" r="1.85"/><circle cx="1618.76" cy="454.1" r="1.85"/><circle cx="1622.96" cy="481.44" r="1.85"/><circle cx="1620.64" cy="461.86" r="1.85"/><circle cx="1622.94" cy="464.11" r="1.85"/><circle cx="1618.06" cy="484" r="1.85"/><circle cx="1624.58" cy="438.41" r="1.85"/><circle cx="1627.77" cy="451.89" r="1.85"/><circle cx="1627.85" cy="441.28" r="1.85"/><circle cx="1626.11" cy="478.97" r="1.85"/><circle cx="1628.54" cy="401.57" r="1.85"/><circle cx="1619.72" cy="472.62" r="1.85"/><circle cx="1629.98" cy="480.01" r="1.85"/><circle cx="1618.59" cy="485.67" r="1.85"/><circle cx="1618.89" cy="421.86" r="1.85"/><circle cx="1627.48" cy="487.98" r="1.85"/><circle cx="1626.85" cy="463.33" r="1.85"/><circle cx="1621.04" cy="486.18" r="1.85"/><circle cx="1615.27" cy="429.66" r="1.85"/></g>
<line x1="1622.5" y1="495.84" x2="1622.5" y2="561.94" stroke="#231f20" stroke-width="1.3"/>
<line x1="1622.5" y1="606.01" x2="1622.5" y2="613.36" stroke="#231f20" stroke-width="1.3"/>
<rect x="1600.1" y="561.94" width="44.8" height="44.07" fill="#3d66b0"/>
<line x1="1600.1" y1="591.32" x2="1644.9" y2="591.32" stroke="#1a1718" stroke-width="2.2"/>
<line x1="1691.3" y1="641" x2="1691.3" y2="648" stroke="#3a3738" stroke-width="1.3"/>
<g fill="#1d1d1f" fill-opacity="0.36" stroke="#1d1d1f" stroke-opacity="0.27" stroke-width="0.9"><circle cx="1686.3" cy="494.37" r="1.85"/><circle cx="1688.3" cy="494.37" r="1.85"/><circle cx="1691.3" cy="528.15" r="1.85"/><circle cx="1695.3" cy="534.03" r="1.85"/><circle cx="1697.3" cy="535.5" r="1.85"/><circle cx="1689.3" cy="538.44" r="1.85"/><circle cx="1686.3" cy="542.11" r="1.85"/><circle cx="1685.3" cy="544.31" r="1.85"/><circle cx="1694.04" cy="571.2" r="1.85"/><circle cx="1698.33" cy="546.78" r="1.85"/><circle cx="1691.39" cy="572.33" r="1.85"/><circle cx="1691.34" cy="557.93" r="1.85"/><circle cx="1686.64" cy="560.84" r="1.85"/><circle cx="1685.39" cy="572.88" r="1.85"/><circle cx="1692.08" cy="573.27" r="1.85"/><circle cx="1692.33" cy="565.66" r="1.85"/><circle cx="1686.57" cy="571.93" r="1.85"/><circle cx="1696.4" cy="571.16" r="1.85"/><circle cx="1685.23" cy="544.64" r="1.85"/><circle cx="1698.07" cy="572.98" r="1.85"/><circle cx="1695.27" cy="566.81" r="1.85"/><circle cx="1690.8" cy="569.3" r="1.85"/><circle cx="1690.25" cy="565.65" r="1.85"/><circle cx="1684" cy="563.49" r="1.85"/><circle cx="1696.46" cy="560.28" r="1.85"/><circle cx="1690.61" cy="571.47" r="1.85"/><circle cx="1689.88" cy="558.76" r="1.85"/><circle cx="1686.28" cy="571.28" r="1.85"/><circle cx="1684.03" cy="565.71" r="1.85"/><circle cx="1695.83" cy="548.85" r="1.85"/><circle cx="1696.71" cy="560.15" r="1.85"/><circle cx="1689.87" cy="562.67" r="1.85"/><circle cx="1691.36" cy="563.53" r="1.85"/><circle cx="1687.67" cy="555.55" r="1.85"/><circle cx="1694.97" cy="546.79" r="1.85"/><circle cx="1696.02" cy="556.98" r="1.85"/><circle cx="1697.25" cy="567.91" r="1.85"/><circle cx="1694.22" cy="550.16" r="1.85"/><circle cx="1695.28" cy="557.5" r="1.85"/><circle cx="1694.64" cy="567.91" r="1.85"/><circle cx="1688.93" cy="572.88" r="1.85"/><circle cx="1683.96" cy="566.67" r="1.85"/><circle cx="1693.38" cy="568.81" r="1.85"/><circle cx="1687.28" cy="562.83" r="1.85"/><circle cx="1688.87" cy="561.51" r="1.85"/><circle cx="1692.34" cy="561.72" r="1.85"/><circle cx="1689.64" cy="565.23" r="1.85"/><circle cx="1694.32" cy="562.28" r="1.85"/><circle cx="1698.5" cy="557.76" r="1.85"/><circle cx="1693.03" cy="573.44" r="1.85"/><circle cx="1687.65" cy="558.78" r="1.85"/><circle cx="1684.56" cy="567.99" r="1.85"/><circle cx="1689.44" cy="571.28" r="1.85"/><circle cx="1687.56" cy="572.54" r="1.85"/><circle cx="1692.05" cy="547.48" r="1.85"/><circle cx="1698.31" cy="565.82" r="1.85"/><circle cx="1698.73" cy="564.37" r="1.85"/><circle cx="1695.94" cy="562.41" r="1.85"/><circle cx="1692.76" cy="572.81" r="1.85"/><circle cx="1684.48" cy="557.88" r="1.85"/><circle cx="1686.2" cy="544.13" r="1.85"/><circle cx="1686.34" cy="566.6" r="1.85"/><circle cx="1692.97" cy="566.09" r="1.85"/><circle cx="1697.98" cy="573.02" r="1.85"/><circle cx="1691.7" cy="567.63" r="1.85"/><circle cx="1689.28" cy="563.58" r="1.85"/><circle cx="1693.63" cy="569.95" r="1.85"/><circle cx="1688.05" cy="564.56" r="1.85"/><circle cx="1688.24" cy="559.69" r="1.85"/><circle cx="1687.48" cy="573.54" r="1.85"/><circle cx="1686.15" cy="573.21" r="1.85"/><circle cx="1689.65" cy="558.09" r="1.85"/><circle cx="1695.03" cy="548.39" r="1.85"/><circle cx="1698.63" cy="573.12" r="1.85"/><circle cx="1697.38" cy="572.84" r="1.85"/><circle cx="1690.96" cy="567.46" r="1.85"/><circle cx="1691.65" cy="570.59" r="1.85"/><circle cx="1694.64" cy="542.94" r="1.85"/><circle cx="1698.48" cy="566.68" r="1.85"/><circle cx="1692.85" cy="554.85" r="1.85"/><circle cx="1693.16" cy="572.33" r="1.85"/><circle cx="1686.85" cy="566.94" r="1.85"/><circle cx="1691.72" cy="573.1" r="1.85"/><circle cx="1690.44" cy="572.22" r="1.85"/><circle cx="1690.63" cy="561.45" r="1.85"/><circle cx="1692.53" cy="570.32" r="1.85"/><circle cx="1695.47" cy="567.65" r="1.85"/><circle cx="1698.76" cy="565.29" r="1.85"/><circle cx="1687.38" cy="558.97" r="1.85"/><circle cx="1697.19" cy="572.35" r="1.85"/><circle cx="1693.17" cy="556.66" r="1.85"/><circle cx="1687.87" cy="568.75" r="1.85"/><circle cx="1692.27" cy="560.86" r="1.85"/></g>
<line x1="1691.3" y1="576.63" x2="1691.3" y2="598.67" stroke="#231f20" stroke-width="1.3"/>
<line x1="1691.3" y1="613.36" x2="1691.3" y2="613.36" stroke="#231f20" stroke-width="1.3"/>
<rect x="1668.9" y="598.67" width="44.8" height="14.69" fill="#3d66b0"/>
<line x1="1668.9" y1="606.01" x2="1713.7" y2="606.01" stroke="#1a1718" stroke-width="2.2"/>
<line x1="1760" y1="641" x2="1760" y2="648" stroke="#3a3738" stroke-width="1.3"/>
<g fill="#1d1d1f" fill-opacity="0.36" stroke="#1d1d1f" stroke-opacity="0.27" stroke-width="0.9"><circle cx="1759" cy="407.7" r="1.85"/><circle cx="1762" cy="407.7" r="1.85"/><circle cx="1762" cy="416.51" r="1.85"/><circle cx="1764" cy="420.92" r="1.85"/><circle cx="1766" cy="428.26" r="1.85"/><circle cx="1757" cy="431.2" r="1.85"/><circle cx="1762" cy="432.67" r="1.85"/><circle cx="1755" cy="442.95" r="1.85"/><circle cx="1767" cy="443.69" r="1.85"/><circle cx="1757" cy="448.09" r="1.85"/><circle cx="1755" cy="455.44" r="1.85"/><circle cx="1760" cy="455.44" r="1.85"/><circle cx="1762" cy="498.95" r="1.85"/><circle cx="1755.35" cy="489.54" r="1.85"/><circle cx="1767.2" cy="510.32" r="1.85"/><circle cx="1765.68" cy="469.5" r="1.85"/><circle cx="1753.41" cy="514.91" r="1.85"/><circle cx="1758.88" cy="509.77" r="1.85"/><circle cx="1754.04" cy="497.44" r="1.85"/><circle cx="1753.59" cy="501.11" r="1.85"/><circle cx="1762.64" cy="513.98" r="1.85"/><circle cx="1761.97" cy="500.74" r="1.85"/><circle cx="1759.68" cy="506.95" r="1.85"/><circle cx="1757.66" cy="511.25" r="1.85"/><circle cx="1765.08" cy="490.18" r="1.85"/><circle cx="1754.3" cy="514.22" r="1.85"/><circle cx="1761.86" cy="484.75" r="1.85"/><circle cx="1755.7" cy="488.34" r="1.85"/><circle cx="1756.37" cy="505.36" r="1.85"/><circle cx="1758.03" cy="484.68" r="1.85"/><circle cx="1767.34" cy="495.88" r="1.85"/><circle cx="1760.73" cy="508.32" r="1.85"/><circle cx="1766.31" cy="490.08" r="1.85"/><circle cx="1758.04" cy="505.25" r="1.85"/><circle cx="1765.63" cy="513.76" r="1.85"/><circle cx="1753.75" cy="514.14" r="1.85"/><circle cx="1759.77" cy="500.16" r="1.85"/><circle cx="1756.98" cy="494.09" r="1.85"/><circle cx="1753.64" cy="487.78" r="1.85"/><circle cx="1762.43" cy="511.19" r="1.85"/><circle cx="1757.06" cy="514.08" r="1.85"/><circle cx="1762.91" cy="491.57" r="1.85"/><circle cx="1754.64" cy="509.46" r="1.85"/><circle cx="1763.39" cy="507.4" r="1.85"/><circle cx="1754.26" cy="507.15" r="1.85"/><circle cx="1761.04" cy="492.61" r="1.85"/><circle cx="1766.6" cy="468.86" r="1.85"/><circle cx="1759.07" cy="470.01" r="1.85"/><circle cx="1757.07" cy="485.34" r="1.85"/><circle cx="1758.49" cy="508.53" r="1.85"/><circle cx="1765.92" cy="464.75" r="1.85"/><circle cx="1757.93" cy="510.34" r="1.85"/><circle cx="1757.95" cy="507.17" r="1.85"/><circle cx="1758.31" cy="506.27" r="1.85"/><circle cx="1760.96" cy="511.62" r="1.85"/><circle cx="1760.61" cy="485.9" r="1.85"/><circle cx="1760.94" cy="481.88" r="1.85"/><circle cx="1763.88" cy="512.04" r="1.85"/><circle cx="1756.72" cy="475.95" r="1.85"/><circle cx="1760.23" cy="515.25" r="1.85"/><circle cx="1761.01" cy="501" r="1.85"/><circle cx="1764.56" cy="496.01" r="1.85"/><circle cx="1760.7" cy="514.43" r="1.85"/><circle cx="1753.76" cy="486.71" r="1.85"/><circle cx="1763.56" cy="514.08" r="1.85"/><circle cx="1753.77" cy="472.86" r="1.85"/><circle cx="1754.66" cy="496.9" r="1.85"/><circle cx="1762.24" cy="490.1" r="1.85"/><circle cx="1755.81" cy="510.41" r="1.85"/><circle cx="1760.32" cy="488.61" r="1.85"/><circle cx="1758.42" cy="488.66" r="1.85"/><circle cx="1767.02" cy="507.97" r="1.85"/><circle cx="1759.9" cy="494.84" r="1.85"/><circle cx="1763.31" cy="501.28" r="1.85"/><circle cx="1766.22" cy="492.68" r="1.85"/><circle cx="1764.89" cy="505.8" r="1.85"/><circle cx="1765.3" cy="495.16" r="1.85"/><circle cx="1765.01" cy="485.07" r="1.85"/><circle cx="1766.87" cy="474.7" r="1.85"/><circle cx="1760.36" cy="496.58" r="1.85"/><circle cx="1764.53" cy="492.56" r="1.85"/><circle cx="1758.81" cy="505.45" r="1.85"/><circle cx="1763.62" cy="512.72" r="1.85"/><circle cx="1755.01" cy="506.88" r="1.85"/><circle cx="1758.87" cy="511.4" r="1.85"/><circle cx="1767.05" cy="509.22" r="1.85"/><circle cx="1757.13" cy="514.53" r="1.85"/><circle cx="1762.22" cy="513.39" r="1.85"/><circle cx="1755.19" cy="487.75" r="1.85"/><circle cx="1759.38" cy="514.47" r="1.85"/><circle cx="1766.14" cy="499.29" r="1.85"/><circle cx="1754.13" cy="514.97" r="1.85"/></g>
<line x1="1760" y1="517.87" x2="1760" y2="569.29" stroke="#231f20" stroke-width="1.3"/>
<line x1="1760" y1="606.01" x2="1760" y2="613.36" stroke="#231f20" stroke-width="1.3"/>
<rect x="1737.6" y="569.29" width="44.8" height="36.72" fill="#3d66b0"/>
<line x1="1737.6" y1="591.32" x2="1782.4" y2="591.32" stroke="#1a1718" stroke-width="2.2"/>
<text x="1638.6" y="74.1" font-size="21.5"><tspan font-style="italic" textLength="15.48" lengthAdjust="spacingAndGlyphs">P</tspan><tspan x="1654.08" textLength="84.52" lengthAdjust="spacingAndGlyphs"> = 0.045</tspan></text>
<line x1="1625.8" y1="81.4" x2="1751.8" y2="81.4" stroke="#3a3738" stroke-width="1.3"/>
<text x="1653.6" y="127.1" font-size="21.5"><tspan font-style="italic" textLength="13.76" lengthAdjust="spacingAndGlyphs">P</tspan><tspan x="1667.36" textLength="98.64" lengthAdjust="spacingAndGlyphs"> = 2.2 × 10</tspan><tspan x="1766.5" dy="-11.8" font-size="15.26" textLength="24" lengthAdjust="spacingAndGlyphs">−16</tspan></text>
<line x1="1688.8" y1="134.2" x2="1753.6" y2="134.2" stroke="#3a3738" stroke-width="1.3"/>
<g transform="translate(1510.4,340) rotate(-90)">
<text x="-70" y="0" font-size="27" textLength="140" lengthAdjust="spacingAndGlyphs">Transcripts</text>
</g>
<g transform="translate(1633.7,670.9) rotate(-38.8)">
<text x="-44" y="0" font-size="22" textLength="44" lengthAdjust="spacingAndGlyphs" font-style="italic">Zic2</text>
</g>
<g transform="translate(1702.5,670.9) rotate(-38.8)">
<text x="-45.5" y="0" font-size="22" textLength="45.5" lengthAdjust="spacingAndGlyphs" font-style="italic">E2f6</text>
</g>
<g transform="translate(1771.2,670.9) rotate(-38.8)">
<text x="-66" y="0" font-size="22" textLength="66" lengthAdjust="spacingAndGlyphs" font-style="italic">Hspg2</text>
</g>
<line x1="1583.8" y1="728" x2="1695" y2="728" stroke="#3a3738" stroke-width="1.3"/>
<line x1="1711" y1="728" x2="1780.9" y2="728" stroke="#3a3738" stroke-width="1.3"/>
<text x="1577.4" y="760.8" font-size="26" textLength="124.3" lengthAdjust="spacingAndGlyphs">Polycomb</text>
<text x="1715.6" y="760.8" font-size="26" textLength="127.9" lengthAdjust="spacingAndGlyphs">Reference</text>
<text x="0.5" y="879.6" font-size="39" textLength="21.9" lengthAdjust="spacingAndGlyphs" font-weight="bold" stroke="#231f20" stroke-width="1.2">c</text>
<text x="339.8" y="876.6" font-size="27.5" textLength="290.9" lengthAdjust="spacingAndGlyphs">Rapid PRC1 depletion</text>
<g transform="translate(0,0)">
<ellipse cx="95" cy="970" rx="14.2" ry="14.6" fill="#7fb78e"/>
<ellipse cx="125" cy="954" rx="16.2" ry="9.6" fill="#7fb78e" transform="rotate(-22 125 954)"/>
<ellipse cx="126.5" cy="1016.5" rx="32.5" ry="25.6" fill="#7fb78e"/>
<ellipse cx="173" cy="1025.3" rx="22" ry="15.6" fill="#7fb78e"/>
<ellipse cx="203.5" cy="1021.5" rx="18.8" ry="16.5" fill="#7fb78e"/>
<ellipse cx="150" cy="992" rx="50" ry="30" fill="#7fb78e"/>
<ellipse cx="196" cy="1006" rx="15" ry="12" fill="#7fb78e"/>
<ellipse cx="108" cy="990" rx="12" ry="14" fill="#7fb78e"/>
<rect x="205" y="979.4" width="16" height="5.2" fill="#056a38"/>
<ellipse cx="156.1" cy="982.4" rx="52" ry="34.2" fill="#0b9444"/>
<circle cx="248" cy="982" r="30.5" fill="#056a38"/>
<text x="117" y="989.4" font-size="23.5" textLength="76.8" lengthAdjust="spacingAndGlyphs" fill="#ffffff" fill-opacity="1.0">RING1B</text>
<text x="230" y="989.4" font-size="23.5" textLength="35" lengthAdjust="spacingAndGlyphs" fill="#ffffff" fill-opacity="1.0">AID</text>
</g>
<g transform="translate(1.4,191.8)">
<ellipse cx="95" cy="970" rx="14.2" ry="14.6" fill="#c6ddc9"/>
<ellipse cx="125" cy="954" rx="16.2" ry="9.6" fill="#c6ddc9" transform="rotate(-22 125 954)"/>
<ellipse cx="126.5" cy="1016.5" rx="32.5" ry="25.6" fill="#c6ddc9"/>
<ellipse cx="173" cy="1025.3" rx="22" ry="15.6" fill="#c6ddc9"/>
<ellipse cx="203.5" cy="1021.5" rx="18.8" ry="16.5" fill="#c6ddc9"/>
<ellipse cx="150" cy="992" rx="50" ry="30" fill="#c6ddc9"/>
<ellipse cx="196" cy="1006" rx="15" ry="12" fill="#c6ddc9"/>
<ellipse cx="108" cy="990" rx="12" ry="14" fill="#c6ddc9"/>
<rect x="205" y="979.4" width="16" height="5.2" fill="#93ad98"/>
<ellipse cx="156.1" cy="982.4" rx="52" ry="34.2" fill="#a3c9a8"/>
<circle cx="248" cy="982" r="30.5" fill="#93ad98"/>
<text x="117" y="989.4" font-size="23.5" textLength="76.8" lengthAdjust="spacingAndGlyphs" fill="#ffffff" fill-opacity="0.95">RING1B</text>
<text x="230" y="989.4" font-size="23.5" textLength="35" lengthAdjust="spacingAndGlyphs" fill="#ffffff" fill-opacity="0.95">AID</text>
</g>
<line x1="190.7" y1="1053" x2="190.7" y2="1122" stroke="#3b4a6b" stroke-width="4.2"/>
<path d="M183.6 1116.5L190.7 1120.5L197.8 1116.5L190.7 1135z" fill="#3b4a6b"/>
<text x="126" y="1096.2" font-size="26" textLength="56.6" lengthAdjust="spacingAndGlyphs">+IAA</text>
<line x1="115" y1="1124.6" x2="272.8" y2="1235.4" stroke="#ea4034" stroke-width="8.3"/>
<line x1="272.6" y1="1124.4" x2="115.4" y2="1236.2" stroke="#ea4034" stroke-width="8.3"/>
<text x="319" y="1006.2" font-size="22" textLength="116.3" lengthAdjust="spacingAndGlyphs">+IAA (min):</text>
<text x="307.7" y="1110.5" font-size="22" textLength="127.6" lengthAdjust="spacingAndGlyphs">Anti-RING1B</text>
<text x="320" y="1231.3" font-size="22" textLength="114.8" lengthAdjust="spacingAndGlyphs">Anti-SUZ12</text>
<text x="552.7" y="929.5" font-size="25.5"><tspan font-style="italic" textLength="77.8" lengthAdjust="spacingAndGlyphs">Ring1a</tspan><tspan x="631.5" dy="-9" font-size="16.5" textLength="28.4" lengthAdjust="spacingAndGlyphs">−/−</tspan></text>
<text x="533.8" y="962" font-size="25.5" textLength="145.3" lengthAdjust="spacingAndGlyphs">RING1B-AID</text>
<line x1="469.2" y1="976.3" x2="743.8" y2="976.3" stroke="#3a3738" stroke-width="1.3"/>
<text x="479.7" y="1006.4" font-size="21.5" textLength="13.39" lengthAdjust="spacingAndGlyphs">0</text>
<text x="521.41" y="1006.4" font-size="21.5" textLength="26.78" lengthAdjust="spacingAndGlyphs">15</text>
<text x="581.81" y="1006.4" font-size="21.5" textLength="26.78" lengthAdjust="spacingAndGlyphs">30</text>
<text x="647.11" y="1006.4" font-size="21.5" textLength="26.78" lengthAdjust="spacingAndGlyphs">60</text>
<text x="699.51" y="1006.4" font-size="21.5" textLength="40.17" lengthAdjust="spacingAndGlyphs">120</text>
<text x="764.89" y="1006.4" font-size="21.5" textLength="33.43" lengthAdjust="spacingAndGlyphs">WT</text>
<text x="818" y="1022.4" font-size="21.5" textLength="54" lengthAdjust="spacingAndGlyphs">(kDa)</text>
<line x1="810" y1="1046.8" x2="816" y2="1046.8" stroke="#3a3738" stroke-width="1.3"/>
<text x="829" y="1054.3" font-size="21.5" textLength="26.78" lengthAdjust="spacingAndGlyphs">70</text>
<line x1="810" y1="1190.2" x2="816" y2="1190.2" stroke="#3a3738" stroke-width="1.3"/>
<text x="829" y="1197.7" font-size="21.5" textLength="26.78" lengthAdjust="spacingAndGlyphs">35</text>
<line x1="810" y1="1236.8" x2="816" y2="1236.8" stroke="#3a3738" stroke-width="1.3"/>
<text x="829" y="1244.3" font-size="21.5" textLength="40.17" lengthAdjust="spacingAndGlyphs">100</text>
<defs><filter id="bl1" filterUnits="userSpaceOnUse" x="440" y="1000" width="380" height="270"><feGaussianBlur stdDeviation="2.2 1.7"/></filter><filter id="bl2" filterUnits="userSpaceOnUse" x="440" y="1000" width="380" height="270"><feGaussianBlur stdDeviation="1.6 1.1"/></filter><filter id="bl3" filterUnits="userSpaceOnUse" x="440" y="1000" width="380" height="270"><feGaussianBlur stdDeviation="4 3"/></filter><filter id="noise" x="0" y="0" width="100%" height="100%"><feTurbulence type="fractalNoise" baseFrequency="0.55" numOctaves="2" seed="3" result="n"/><feColorMatrix type="matrix" values="0 0 0 0 0  0 0 0 0 0  0 0 0 0 0  0.07 0.07 0.07 0 -0.09"/></filter></defs>
<rect x="447.6" y="1020" width="362.2" height="174.2" fill="#f9f9fa"/>
<g clip-path="none">
<rect x="460" y="1056.5" width="47" height="9" fill="#000" fill-opacity="0.12" filter="url(#bl3)"/>
<rect x="521" y="1056.5" width="42" height="9" fill="#000" fill-opacity="0.1" filter="url(#bl3)"/>
<rect x="577" y="1056.5" width="45" height="9" fill="#000" fill-opacity="0.11" filter="url(#bl3)"/>
<rect x="634" y="1057.0" width="44" height="8" fill="#000" fill-opacity="0.07" filter="url(#bl3)"/>
<rect x="462" y="1087.0" width="43" height="10" fill="#000" fill-opacity="0.045" filter="url(#bl3)"/>
<rect x="522" y="1087.0" width="40" height="10" fill="#000" fill-opacity="0.04" filter="url(#bl3)"/>
<rect x="578" y="1087.0" width="43" height="10" fill="#000" fill-opacity="0.04" filter="url(#bl3)"/>
<rect x="580" y="1168.0" width="40" height="20" fill="#000" fill-opacity="0.02" filter="url(#bl3)"/>
<rect x="636" y="1168.0" width="40" height="20" fill="#000" fill-opacity="0.022" filter="url(#bl3)"/>
<rect x="694" y="1174.0" width="46" height="16" fill="#000" fill-opacity="0.025" filter="url(#bl3)"/>
<rect x="462" y="1160.0" width="44" height="24" fill="#000" fill-opacity="0.012" filter="url(#bl3)"/>
<path d="M463 1040.52Q484 1043.6 505 1040.08" fill="none" stroke="#000" stroke-opacity="0.22" stroke-width="11" stroke-linecap="round" filter="url(#bl1)"/>
<path d="M464 1039.92Q484 1043 504 1039.48" fill="none" stroke="#000" stroke-opacity="0.86" stroke-width="5.0" stroke-linecap="round" filter="url(#bl2)"/>
<path d="M522.5 1040.56Q542 1042.8 561.5 1040.24" fill="none" stroke="#000" stroke-opacity="0.22" stroke-width="11" stroke-linecap="round" filter="url(#bl1)"/>
<path d="M523.5 1039.96Q542 1042.2 560.5 1039.64" fill="none" stroke="#000" stroke-opacity="0.8" stroke-width="5.0" stroke-linecap="round" filter="url(#bl2)"/>
<path d="M578.5 1039.48Q599 1042 619.5 1039.12" fill="none" stroke="#000" stroke-opacity="0.22" stroke-width="11" stroke-linecap="round" filter="url(#bl1)"/>
<path d="M579.5 1038.88Q599 1041.4 618.5 1038.52" fill="none" stroke="#000" stroke-opacity="0.84" stroke-width="5.0" stroke-linecap="round" filter="url(#bl2)"/>
<path d="M637 1040.08Q656 1038.4 675 1040.32" fill="none" stroke="#000" stroke-opacity="0.3" stroke-width="7" stroke-linecap="round" filter="url(#bl1)"/>
<path d="M697 1039.38Q718.5 1039.8 740 1039.32" fill="none" stroke="#000" stroke-opacity="0.045" stroke-width="7" stroke-linecap="round" filter="url(#bl1)"/>
<path d="M764 1156.2Q780 1155.6 797 1152.8" fill="none" stroke="#000" stroke-opacity="0.4" stroke-width="5.4" stroke-linecap="round" filter="url(#bl2)"/>
<path d="M765 1165.2Q780 1164.6 797 1162" fill="none" stroke="#000" stroke-opacity="0.42" stroke-width="3.8" stroke-linecap="round" filter="url(#bl2)"/>
<path d="M790 1153.4L797 1152.6" fill="none" stroke="#000" stroke-opacity="0.25" stroke-width="5" stroke-linecap="round" filter="url(#bl2)"/>
</g>
<rect x="447.6" y="1020" width="362.2" height="174.2" fill="#000" filter="url(#noise)"/>
<rect x="447.6" y="1020" width="362.2" height="174.2" fill="none" stroke="#2e2b2c" stroke-width="1.45"/>
<rect x="447.6" y="1205.8" width="362.2" height="48.7" fill="#fbfbfb"/>
<path d="M464 1229.76Q486 1233.4 508 1229.24" fill="none" stroke="#000" stroke-opacity="0.95" stroke-width="4.3" stroke-linecap="round" filter="url(#bl2)"/>
<rect x="464" y="1214" width="44" height="34" fill="#000" fill-opacity="0.028" filter="url(#bl3)"/>
<path d="M526.5 1230Q545.25 1232.8 564 1229.6" fill="none" stroke="#000" stroke-opacity="0.9" stroke-width="4.3" stroke-linecap="round" filter="url(#bl2)"/>
<rect x="526.5" y="1214" width="37.5" height="34" fill="#000" fill-opacity="0.028" filter="url(#bl3)"/>
<path d="M580.5 1230Q601.75 1232.8 623 1229.6" fill="none" stroke="#000" stroke-opacity="0.96" stroke-width="4.3" stroke-linecap="round" filter="url(#bl2)"/>
<rect x="580.5" y="1214" width="42.5" height="34" fill="#000" fill-opacity="0.028" filter="url(#bl3)"/>
<path d="M637.5 1231.44Q657.75 1229.2 678 1231.76" fill="none" stroke="#000" stroke-opacity="0.93" stroke-width="4.3" stroke-linecap="round" filter="url(#bl2)"/>
<rect x="637.5" y="1214" width="40.5" height="34" fill="#000" fill-opacity="0.028" filter="url(#bl3)"/>
<path d="M695 1229.76Q719 1233.4 743 1229.24" fill="none" stroke="#000" stroke-opacity="0.95" stroke-width="4.3" stroke-linecap="round" filter="url(#bl2)"/>
<rect x="695" y="1214" width="48" height="34" fill="#000" fill-opacity="0.028" filter="url(#bl3)"/>
<path d="M756 1230.56Q777 1231.4 798 1230.44" fill="none" stroke="#000" stroke-opacity="0.9" stroke-width="4.3" stroke-linecap="round" filter="url(#bl2)"/>
<rect x="756" y="1214" width="42" height="34" fill="#000" fill-opacity="0.028" filter="url(#bl3)"/>
<rect x="447.6" y="1205.8" width="362.2" height="48.7" fill="#000" filter="url(#noise)"/>
<rect x="447.6" y="1205.8" width="362.2" height="48.7" fill="none" stroke="#2e2b2c" stroke-width="1.45"/>
<text x="0" y="1348.2" font-size="39" textLength="23.7" lengthAdjust="spacingAndGlyphs" font-weight="bold" stroke="#231f20" stroke-width="1.2">d</text>
<rect x="353.3" y="1336.4" width="253.3" height="239" fill="none" stroke="#3a3738" stroke-width="1.4"/>
<line x1="347.8" y1="1564.6" x2="353.3" y2="1564.6" stroke="#3a3738" stroke-width="1.3"/>
<text x="323.21" y="1572.2" font-size="21.5" textLength="13.39" lengthAdjust="spacingAndGlyphs">0</text>
<line x1="347.8" y1="1484.46" x2="353.3" y2="1484.46" stroke="#3a3738" stroke-width="1.3"/>
<text x="309.82" y="1492.06" font-size="21.5" textLength="26.78" lengthAdjust="spacingAndGlyphs">20</text>
<line x1="347.8" y1="1404.32" x2="353.3" y2="1404.32" stroke="#3a3738" stroke-width="1.3"/>
<text x="309.82" y="1411.92" font-size="21.5" textLength="26.78" lengthAdjust="spacingAndGlyphs">40</text>
<rect x="374" y="1529.74" width="20.7" height="34.86" fill="#62b8a4" stroke="#2b2f45" stroke-width="1"/>
<rect x="394.7" y="1496.48" width="20.8" height="68.12" fill="#3e4a8b" stroke="#2b2f45" stroke-width="1"/>
<rect x="442.5" y="1508.5" width="20.8" height="56.1" fill="#62b8a4" stroke="#2b2f45" stroke-width="1"/>
<rect x="463.3" y="1419.55" width="20.8" height="145.05" fill="#3e4a8b" stroke="#2b2f45" stroke-width="1"/>
<rect x="544.7" y="1411.53" width="20.8" height="153.07" fill="#62b8a4" stroke="#2b2f45" stroke-width="1"/>
<rect x="565.5" y="1384.69" width="20.8" height="179.91" fill="#3e4a8b" stroke="#2b2f45" stroke-width="1"/>
<line x1="384.5" y1="1516.3" x2="384.5" y2="1540.8" stroke="#1a1718" stroke-width="1.2"/>
<line x1="379.5" y1="1516.3" x2="389.5" y2="1516.3" stroke="#1a1718" stroke-width="1.2"/>
<line x1="379.5" y1="1540.8" x2="389.5" y2="1540.8" stroke="#1a1718" stroke-width="1.2"/>
<g fill="#1a1718"><circle cx="384.5" cy="1516.3" r="2.9"/><circle cx="384.5" cy="1531.7" r="2.9"/><circle cx="384.5" cy="1539" r="2.9"/></g>
<line x1="405.3" y1="1485" x2="405.3" y2="1508" stroke="#1a1718" stroke-width="1.2"/>
<line x1="400.3" y1="1485" x2="410.3" y2="1485" stroke="#1a1718" stroke-width="1.2"/>
<line x1="400.3" y1="1508" x2="410.3" y2="1508" stroke="#1a1718" stroke-width="1.2"/>
<g fill="#1a1718"><circle cx="405.3" cy="1485" r="2.9"/><circle cx="405.3" cy="1498.1" r="2.9"/><circle cx="405.3" cy="1507.2" r="2.9"/></g>
<line x1="453.1" y1="1497.7" x2="453.1" y2="1520.7" stroke="#1a1718" stroke-width="1.2"/>
<line x1="448.1" y1="1497.7" x2="458.1" y2="1497.7" stroke="#1a1718" stroke-width="1.2"/>
<line x1="448.1" y1="1520.7" x2="458.1" y2="1520.7" stroke="#1a1718" stroke-width="1.2"/>
<g fill="#1a1718"><circle cx="453.1" cy="1498.8" r="2.9"/><circle cx="453.1" cy="1506.9" r="2.9"/><circle cx="453.1" cy="1520" r="2.9"/></g>
<line x1="473.9" y1="1407.4" x2="473.9" y2="1434.6" stroke="#1a1718" stroke-width="1.2"/>
<line x1="468.9" y1="1407.4" x2="478.9" y2="1407.4" stroke="#1a1718" stroke-width="1.2"/>
<line x1="468.9" y1="1434.6" x2="478.9" y2="1434.6" stroke="#1a1718" stroke-width="1.2"/>
<g fill="#1a1718"><circle cx="471.6" cy="1412.9" r="2.9"/><circle cx="476.2" cy="1412.9" r="2.9"/><circle cx="473.9" cy="1434.6" r="2.9"/></g>
<line x1="555.3" y1="1406.3" x2="555.3" y2="1418.8" stroke="#1a1718" stroke-width="1.2"/>
<line x1="550.3" y1="1406.3" x2="560.3" y2="1406.3" stroke="#1a1718" stroke-width="1.2"/>
<line x1="550.3" y1="1418.8" x2="560.3" y2="1418.8" stroke="#1a1718" stroke-width="1.2"/>
<g fill="#1a1718"><circle cx="553" cy="1408.5" r="2.9"/><circle cx="557.6" cy="1408.5" r="2.9"/><circle cx="555.3" cy="1418.5" r="2.9"/></g>
<line x1="576.1" y1="1349.3" x2="576.1" y2="1422.6" stroke="#1a1718" stroke-width="1.2"/>
<line x1="571.1" y1="1349.3" x2="581.1" y2="1349.3" stroke="#1a1718" stroke-width="1.2"/>
<line x1="571.1" y1="1422.6" x2="581.1" y2="1422.6" stroke="#1a1718" stroke-width="1.2"/>
<g fill="#1a1718"><circle cx="576.1" cy="1350" r="2.9"/><circle cx="576.1" cy="1383.5" r="2.9"/><circle cx="576.1" cy="1422.2" r="2.9"/></g>
<text x="362.4" y="1361.6" font-size="21.5" textLength="43.5" lengthAdjust="spacingAndGlyphs" fill="#5cb39f">UNT</text>
<text x="362.4" y="1390.8" font-size="21.5" textLength="75.2" lengthAdjust="spacingAndGlyphs" fill="#3e4a8b">4 h IAA</text>
<g transform="translate(282.7,1456) rotate(-90)">
<text x="-121.3" y="0" font-size="26" textLength="242.6" lengthAdjust="spacingAndGlyphs">Transcripts per cell</text>
</g>
<g transform="translate(404,1600.6) rotate(-45)">
<text x="-45.5" y="0" font-size="22" textLength="45.5" lengthAdjust="spacingAndGlyphs" font-style="italic">E2f6</text>
</g>
<g transform="translate(472.6,1600.6) rotate(-45)">
<text x="-44" y="0" font-size="22" textLength="44" lengthAdjust="spacingAndGlyphs" font-style="italic">Zic2</text>
</g>
<g transform="translate(575.8,1600.6) rotate(-45)">
<text x="-66.5" y="0" font-size="22" textLength="66.5" lengthAdjust="spacingAndGlyphs" font-style="italic">Hspg2</text>
</g>
<line x1="353.2" y1="1655.4" x2="480.8" y2="1655.4" stroke="#3a3738" stroke-width="1.3"/>
<line x1="518.8" y1="1655.4" x2="600.1" y2="1655.4" stroke="#3a3738" stroke-width="1.3"/>
<text x="354.6" y="1685.6" font-size="26" textLength="125.2" lengthAdjust="spacingAndGlyphs">Polycomb</text>
<text x="496.2" y="1685.6" font-size="26" textLength="126.9" lengthAdjust="spacingAndGlyphs">Reference</text>
<text x="0" y="1802.8" font-size="39" textLength="23" lengthAdjust="spacingAndGlyphs" font-weight="bold" stroke="#231f20" stroke-width="1.2">e</text>
<text x="376.8" y="1799.7" font-size="27.5" textLength="257" lengthAdjust="spacingAndGlyphs">Experiment outline</text>
<line x1="211.4" y1="1832" x2="211.4" y2="2033" stroke="#8a8c8e" stroke-width="1.8" stroke-dasharray="9.5 7"/>
<line x1="298.5" y1="1832" x2="298.5" y2="2033" stroke="#8a8c8e" stroke-width="1.8" stroke-dasharray="9.5 7"/>
<line x1="536.5" y1="1832" x2="536.5" y2="2033" stroke="#8a8c8e" stroke-width="1.8" stroke-dasharray="9.5 7"/>
<line x1="767.4" y1="1832" x2="767.4" y2="2033" stroke="#8a8c8e" stroke-width="1.8" stroke-dasharray="9.5 7"/>
<line x1="215.8" y1="1879.3" x2="289.5" y2="1879.3" stroke="#3b4a6b" stroke-width="3.3"/>
<path d="M281.5 1872.7L298.5 1879.3L281.5 1885.9L286 1879.3z" fill="#3b4a6b"/>
<line x1="215.8" y1="1905.9" x2="289.5" y2="1905.9" stroke="#3b4a6b" stroke-width="3.3"/>
<path d="M281.5 1899.3L298.5 1905.9L281.5 1912.5L286 1905.9z" fill="#3b4a6b"/>
<line x1="298.5" y1="1890.4" x2="525.3" y2="1890.4" stroke="#3b4a6b" stroke-width="3.3"/>
<path d="M517.3 1883.8L534.3 1890.4L517.3 1897L521.8 1890.4z" fill="#3b4a6b"/>
<text x="224.2" y="1860.3" font-size="25.5" textLength="52.2" lengthAdjust="spacingAndGlyphs">UNT</text>
<text x="221" y="1937.7" font-size="25.5" textLength="56.8" lengthAdjust="spacingAndGlyphs">+IAA</text>
<text x="232.2" y="1986.4" font-size="25.5" textLength="33.2" lengthAdjust="spacingAndGlyphs">1 h</text>
<text x="342.8" y="1855.9" font-size="25.5" textLength="147.2" lengthAdjust="spacingAndGlyphs" fill="#9b9ea1">Microscopy</text>
<text x="313" y="1986.4" font-size="25.5" textLength="206.7" lengthAdjust="spacingAndGlyphs">8 h imaging, 3D,</text>
<text x="324.2" y="2019.5" font-size="25.5" textLength="184.4" lengthAdjust="spacingAndGlyphs">4 min intervals</text>
<text x="582.9" y="1885" font-size="25.5" textLength="134.5" lengthAdjust="spacingAndGlyphs">Active TSS</text>
<text x="563.9" y="1917.5" font-size="25.5" textLength="172.5" lengthAdjust="spacingAndGlyphs">identification,</text>
<text x="584.7" y="1950" font-size="25.5" textLength="130.9" lengthAdjust="spacingAndGlyphs">ON-period</text>
<text x="605" y="1982.5" font-size="25.5" textLength="89.4" lengthAdjust="spacingAndGlyphs">feature</text>
<text x="600.6" y="2015" font-size="25.5" textLength="99.5" lengthAdjust="spacingAndGlyphs">analysis</text>
<text x="923.5" y="879.8" font-size="39" textLength="13.8" lengthAdjust="spacingAndGlyphs" font-weight="bold" stroke="#231f20" stroke-width="1.2">f</text>
<text x="1324.8" y="877" font-size="27.5" textLength="258.2" lengthAdjust="spacingAndGlyphs">ON-period analysis</text>
<text x="1088" y="921.8" font-size="26" textLength="163.6" lengthAdjust="spacingAndGlyphs">Pol II loading</text>
<text x="1377.2" y="921.8" font-size="26" textLength="152.8" lengthAdjust="spacingAndGlyphs">ON duration</text>
<text x="1660.5" y="921.8" font-size="26" textLength="131.3" lengthAdjust="spacingAndGlyphs">Amplitude</text>
<text x="923.5" y="973.7" font-size="27" textLength="56.1" lengthAdjust="spacingAndGlyphs" font-style="italic">Zic2</text>
<text x="924.3" y="1344.5" font-size="27" textLength="57.8" lengthAdjust="spacingAndGlyphs" font-style="italic">E2f6</text>
<text x="924.3" y="1720.6" font-size="27" textLength="86.3" lengthAdjust="spacingAndGlyphs" font-style="italic">Hspg2</text>
<g transform="translate(1014.7,1491) rotate(-90)">
<text x="-81.55" y="0" font-size="27" textLength="163.1" lengthAdjust="spacingAndGlyphs">Min per Pol II</text>
</g>
<g transform="translate(1304.1,1492.6) rotate(-90)">
<text x="-48.4" y="0" font-size="27" textLength="96.8" lengthAdjust="spacingAndGlyphs">Minutes</text>
</g>
<g transform="translate(1578.9,1492.2) rotate(-90)">
<text x="-70.05" y="0" font-size="27" textLength="140.1" lengthAdjust="spacingAndGlyphs">Transcripts</text>
</g>
<rect x="1085.4" y="938.6" width="169.2" height="348.8" fill="none" stroke="#3a3738" stroke-width="1.4"/>
<line x1="1079.9" y1="1271.7" x2="1085.4" y2="1271.7" stroke="#3a3738" stroke-width="1.3"/>
<text x="1053.59" y="1280.05" font-size="23.6" textLength="13.91" lengthAdjust="spacingAndGlyphs">0</text>
<line x1="1079.9" y1="1177.9" x2="1085.4" y2="1177.9" stroke="#3a3738" stroke-width="1.3"/>
<text x="1039.68" y="1186.25" font-size="23.6" textLength="27.82" lengthAdjust="spacingAndGlyphs">10</text>
<line x1="1079.9" y1="1084.1" x2="1085.4" y2="1084.1" stroke="#3a3738" stroke-width="1.3"/>
<text x="1039.68" y="1092.45" font-size="23.6" textLength="27.82" lengthAdjust="spacingAndGlyphs">20</text>
<line x1="1079.9" y1="990.3" x2="1085.4" y2="990.3" stroke="#3a3738" stroke-width="1.3"/>
<text x="1039.68" y="998.65" font-size="23.6" textLength="27.82" lengthAdjust="spacingAndGlyphs">30</text>
<line x1="1131.6" y1="1287.4" x2="1131.6" y2="1293.4" stroke="#3a3738" stroke-width="1.3"/>
<g fill="#1d1d1f" fill-opacity="0.39" stroke="#1d1d1f" stroke-opacity="0.23" stroke-width="0.9"><circle cx="1131.6" cy="995.93" r="1.4"/><circle cx="1129.6" cy="1059.71" r="1.4"/><circle cx="1134.6" cy="1121.62" r="1.4"/><circle cx="1128.6" cy="1128.19" r="1.4"/><circle cx="1132.6" cy="1151.64" r="1.4"/><circle cx="1127.6" cy="1152.57" r="1.4"/><circle cx="1125.1" cy="1155.39" r="1.4"/><circle cx="1130.6" cy="1158.2" r="1.4"/><circle cx="1125.6" cy="1160.08" r="1.4"/><circle cx="1138.1" cy="1165.71" r="1.4"/><circle cx="1133.6" cy="1168.52" r="1.4"/><circle cx="1138.1" cy="1172.27" r="1.4"/><circle cx="1135.6" cy="1175.09" r="1.4"/><circle cx="1135.23" cy="1182.87" r="1.4"/><circle cx="1138.24" cy="1179.31" r="1.4"/><circle cx="1137.93" cy="1180.45" r="1.4"/><circle cx="1131.08" cy="1195.12" r="1.4"/><circle cx="1133.83" cy="1176.25" r="1.4"/><circle cx="1125.8" cy="1177.13" r="1.4"/><circle cx="1127.8" cy="1186.04" r="1.4"/><circle cx="1132.71" cy="1184.5" r="1.4"/><circle cx="1127.35" cy="1195.45" r="1.4"/><circle cx="1137.85" cy="1189.95" r="1.4"/><circle cx="1126.49" cy="1179.92" r="1.4"/><circle cx="1126.18" cy="1179.27" r="1.4"/><circle cx="1126" cy="1182.98" r="1.4"/><circle cx="1137.17" cy="1195.69" r="1.4"/><circle cx="1127.33" cy="1191.4" r="1.4"/><circle cx="1137.19" cy="1175.45" r="1.4"/><circle cx="1138.52" cy="1189.75" r="1.4"/><circle cx="1134.27" cy="1184.59" r="1.4"/><circle cx="1138.21" cy="1191.5" r="1.4"/><circle cx="1138.6" cy="1181.47" r="1.4"/><circle cx="1128.58" cy="1177.28" r="1.4"/><circle cx="1126.59" cy="1188.27" r="1.4"/></g>
<line x1="1131.6" y1="1197.04" x2="1131.6" y2="1233.24" stroke="#231f20" stroke-width="1.3"/>
<line x1="1131.6" y1="1257.91" x2="1131.6" y2="1268.6" stroke="#231f20" stroke-width="1.3"/>
<rect x="1106.6" y="1233.24" width="50" height="24.67" fill="#b06a58"/>
<line x1="1106.6" y1="1248.72" x2="1156.6" y2="1248.72" stroke="#1a1718" stroke-width="2.2"/>
<line x1="1208.3" y1="1287.4" x2="1208.3" y2="1293.4" stroke="#3a3738" stroke-width="1.3"/>
<g fill="#1d1d1f" fill-opacity="0.39" stroke="#1d1d1f" stroke-opacity="0.23" stroke-width="0.9"><circle cx="1202.8" cy="1053.15" r="1.4"/><circle cx="1201.3" cy="1078.47" r="1.4"/><circle cx="1212.3" cy="1099.11" r="1.4"/><circle cx="1213.8" cy="1104.74" r="1.4"/><circle cx="1209.8" cy="1107.55" r="1.4"/><circle cx="1201.3" cy="1128.19" r="1.4"/><circle cx="1200.8" cy="1138.5" r="1.4"/><circle cx="1203.3" cy="1144.13" r="1.4"/><circle cx="1207.3" cy="1145.07" r="1.4"/><circle cx="1208.8" cy="1145.07" r="1.4"/><circle cx="1206.8" cy="1150.7" r="1.4"/><circle cx="1214.3" cy="1161.02" r="1.4"/><circle cx="1201.78" cy="1200.57" r="1.4"/><circle cx="1209.85" cy="1197.17" r="1.4"/><circle cx="1210.97" cy="1203.17" r="1.4"/><circle cx="1205.45" cy="1196.26" r="1.4"/><circle cx="1208.01" cy="1174.41" r="1.4"/><circle cx="1208.02" cy="1196.82" r="1.4"/><circle cx="1201.66" cy="1182.63" r="1.4"/><circle cx="1212.05" cy="1202.84" r="1.4"/><circle cx="1201.07" cy="1171.76" r="1.4"/><circle cx="1206.29" cy="1177.06" r="1.4"/><circle cx="1200.94" cy="1188.64" r="1.4"/><circle cx="1203.51" cy="1202.42" r="1.4"/><circle cx="1212.14" cy="1199.53" r="1.4"/><circle cx="1206.12" cy="1196.1" r="1.4"/><circle cx="1212.43" cy="1190.67" r="1.4"/><circle cx="1212.03" cy="1201.3" r="1.4"/><circle cx="1213.7" cy="1176.28" r="1.4"/><circle cx="1214.99" cy="1202.6" r="1.4"/><circle cx="1205.91" cy="1201.61" r="1.4"/><circle cx="1214.57" cy="1187.29" r="1.4"/><circle cx="1214.66" cy="1196.21" r="1.4"/><circle cx="1205.49" cy="1189.93" r="1.4"/><circle cx="1203.46" cy="1196.79" r="1.4"/><circle cx="1203.03" cy="1201.85" r="1.4"/><circle cx="1215.75" cy="1183.5" r="1.4"/><circle cx="1201.53" cy="1200.25" r="1.4"/><circle cx="1206.89" cy="1190.35" r="1.4"/><circle cx="1209.71" cy="1198.65" r="1.4"/><circle cx="1207.63" cy="1173.67" r="1.4"/><circle cx="1201.64" cy="1193.98" r="1.4"/><circle cx="1208.2" cy="1202.66" r="1.4"/><circle cx="1202.76" cy="1172.45" r="1.4"/><circle cx="1215.05" cy="1181.01" r="1.4"/><circle cx="1212.62" cy="1186.42" r="1.4"/><circle cx="1207.32" cy="1201.32" r="1.4"/><circle cx="1213.47" cy="1200.5" r="1.4"/><circle cx="1207.6" cy="1197.33" r="1.4"/><circle cx="1215.44" cy="1170.94" r="1.4"/><circle cx="1208.12" cy="1193.02" r="1.4"/><circle cx="1207.99" cy="1181.15" r="1.4"/></g>
<line x1="1208.3" y1="1204.54" x2="1208.3" y2="1236.34" stroke="#231f20" stroke-width="1.3"/>
<line x1="1208.3" y1="1257.63" x2="1208.3" y2="1269.54" stroke="#231f20" stroke-width="1.3"/>
<rect x="1183.3" y="1236.34" width="50" height="21.29" fill="#b06a58"/>
<line x1="1183.3" y1="1249" x2="1233.3" y2="1249" stroke="#1a1718" stroke-width="2.2"/>
<rect x="1369.4" y="938.6" width="169" height="348.8" fill="none" stroke="#3a3738" stroke-width="1.4"/>
<line x1="1363.9" y1="1271.7" x2="1369.4" y2="1271.7" stroke="#3a3738" stroke-width="1.3"/>
<text x="1337.59" y="1280.05" font-size="23.6" textLength="13.91" lengthAdjust="spacingAndGlyphs">0</text>
<line x1="1363.9" y1="1180.88" x2="1369.4" y2="1180.88" stroke="#3a3738" stroke-width="1.3"/>
<text x="1323.68" y="1189.22" font-size="23.6" textLength="27.82" lengthAdjust="spacingAndGlyphs">25</text>
<line x1="1363.9" y1="1090.05" x2="1369.4" y2="1090.05" stroke="#3a3738" stroke-width="1.3"/>
<text x="1323.68" y="1098.4" font-size="23.6" textLength="27.82" lengthAdjust="spacingAndGlyphs">50</text>
<line x1="1363.9" y1="999.23" x2="1369.4" y2="999.23" stroke="#3a3738" stroke-width="1.3"/>
<text x="1323.68" y="1007.58" font-size="23.6" textLength="27.82" lengthAdjust="spacingAndGlyphs">75</text>
<line x1="1415.4" y1="1287.4" x2="1415.4" y2="1293.4" stroke="#3a3738" stroke-width="1.3"/>
<g fill="#1d1d1f" fill-opacity="0.39" stroke="#1d1d1f" stroke-opacity="0.23" stroke-width="0.9"><circle cx="1409.4" cy="993.05" r="1.4"/><circle cx="1416.9" cy="995.59" r="1.4"/><circle cx="1415.4" cy="1039.19" r="1.4"/><circle cx="1411.9" cy="1048.27" r="1.4"/><circle cx="1419.9" cy="1047.91" r="1.4"/><circle cx="1413.9" cy="1057.35" r="1.4"/><circle cx="1408.9" cy="1063.53" r="1.4"/><circle cx="1409.9" cy="1067.16" r="1.4"/><circle cx="1415.4" cy="1063.89" r="1.4"/><circle cx="1418.4" cy="1064.62" r="1.4"/><circle cx="1419.4" cy="1068.98" r="1.4"/><circle cx="1420.9" cy="1072.97" r="1.4"/><circle cx="1420.4" cy="1083.51" r="1.4"/><circle cx="1419.4" cy="1085.69" r="1.4"/><circle cx="1418.4" cy="1087.14" r="1.4"/><circle cx="1412.4" cy="1095.5" r="1.4"/><circle cx="1422.9" cy="1094.41" r="1.4"/><circle cx="1420.4" cy="1097.68" r="1.4"/><circle cx="1417.4" cy="1097.68" r="1.4"/><circle cx="1420.4" cy="1103.86" r="1.4"/><circle cx="1418.9" cy="1106.04" r="1.4"/><circle cx="1411.9" cy="1110.76" r="1.4"/><circle cx="1419.9" cy="1111.48" r="1.4"/><circle cx="1413.4" cy="1113.66" r="1.4"/><circle cx="1416.4" cy="1114.39" r="1.4"/><circle cx="1418.4" cy="1113.3" r="1.4"/><circle cx="1414.4" cy="1116.21" r="1.4"/><circle cx="1422.4" cy="1116.93" r="1.4"/><circle cx="1417.9" cy="1108.94" r="1.4"/></g>
<line x1="1415.4" y1="1126.38" x2="1415.4" y2="1184.51" stroke="#231f20" stroke-width="2.6"/>
<line x1="1415.4" y1="1228.1" x2="1415.4" y2="1257.17" stroke="#231f20" stroke-width="1.3"/>
<rect x="1390.4" y="1184.51" width="50" height="43.6" fill="#85b283"/>
<line x1="1390.4" y1="1213.57" x2="1440.4" y2="1213.57" stroke="#1a1718" stroke-width="2.2"/>
<line x1="1492.1" y1="1287.4" x2="1492.1" y2="1293.4" stroke="#3a3738" stroke-width="1.3"/>
<g fill="#1d1d1f" fill-opacity="0.39" stroke="#1d1d1f" stroke-opacity="0.23" stroke-width="0.9"><circle cx="1488.1" cy="1010.12" r="1.4"/><circle cx="1494.1" cy="1020.3" r="1.4"/><circle cx="1499.1" cy="1020.3" r="1.4"/><circle cx="1485.6" cy="1023.93" r="1.4"/><circle cx="1499.1" cy="1033.74" r="1.4"/><circle cx="1489.6" cy="1042.09" r="1.4"/><circle cx="1499.6" cy="1050.09" r="1.4"/><circle cx="1497.6" cy="1056.26" r="1.4"/><circle cx="1485.6" cy="1057.35" r="1.4"/><circle cx="1490.6" cy="1058.08" r="1.4"/><circle cx="1495.1" cy="1067.53" r="1.4"/><circle cx="1495.1" cy="1071.16" r="1.4"/><circle cx="1493.1" cy="1077.33" r="1.4"/><circle cx="1484.6" cy="1083.51" r="1.4"/></g>
<line x1="1492.1" y1="1097.32" x2="1492.1" y2="1184.51" stroke="#231f20" stroke-width="1.3"/>
<line x1="1492.1" y1="1242.64" x2="1492.1" y2="1257.17" stroke="#231f20" stroke-width="1.3"/>
<rect x="1467.1" y="1184.51" width="50" height="58.13" fill="#85b283"/>
<line x1="1467.1" y1="1213.57" x2="1517.1" y2="1213.57" stroke="#1a1718" stroke-width="2.2"/>
<rect x="1641.4" y="935.4" width="169.3" height="349.2" fill="none" stroke="#3a3738" stroke-width="1.4"/>
<line x1="1635.9" y1="1268.4" x2="1641.4" y2="1268.4" stroke="#3a3738" stroke-width="1.3"/>
<text x="1609.59" y="1276.75" font-size="23.6" textLength="13.91" lengthAdjust="spacingAndGlyphs">0</text>
<line x1="1635.9" y1="1176.43" x2="1641.4" y2="1176.43" stroke="#3a3738" stroke-width="1.3"/>
<text x="1595.68" y="1184.78" font-size="23.6" textLength="27.82" lengthAdjust="spacingAndGlyphs">25</text>
<line x1="1635.9" y1="1084.45" x2="1641.4" y2="1084.45" stroke="#3a3738" stroke-width="1.3"/>
<text x="1595.68" y="1092.8" font-size="23.6" textLength="27.82" lengthAdjust="spacingAndGlyphs">50</text>
<line x1="1635.9" y1="992.48" x2="1641.4" y2="992.48" stroke="#3a3738" stroke-width="1.3"/>
<text x="1595.68" y="1000.83" font-size="23.6" textLength="27.82" lengthAdjust="spacingAndGlyphs">75</text>
<line x1="1687.6" y1="1284.6" x2="1687.6" y2="1290.6" stroke="#3a3738" stroke-width="1.3"/>
<g fill="#1d1d1f" fill-opacity="0.39" stroke="#1d1d1f" stroke-opacity="0.23" stroke-width="0.9"><circle cx="1681.6" cy="992.48" r="1.4"/><circle cx="1689.1" cy="1000.57" r="1.4"/><circle cx="1690.6" cy="1058.7" r="1.4"/><circle cx="1683.1" cy="1077.09" r="1.4"/><circle cx="1684.6" cy="1090.7" r="1.4"/><circle cx="1689.6" cy="1092.54" r="1.4"/><circle cx="1683.6" cy="1099.9" r="1.4"/><circle cx="1688.1" cy="1107.26" r="1.4"/><circle cx="1690.6" cy="1110.57" r="1.4"/><circle cx="1686.1" cy="1112.78" r="1.4"/><circle cx="1686.16" cy="1192.16" r="1.4"/><circle cx="1685.76" cy="1198.95" r="1.4"/><circle cx="1687.59" cy="1168.64" r="1.4"/><circle cx="1681.44" cy="1189.62" r="1.4"/><circle cx="1691.83" cy="1193.11" r="1.4"/><circle cx="1685.52" cy="1130.77" r="1.4"/><circle cx="1691.72" cy="1148.29" r="1.4"/><circle cx="1690.06" cy="1161.32" r="1.4"/><circle cx="1685.55" cy="1152.55" r="1.4"/><circle cx="1684.31" cy="1160.11" r="1.4"/><circle cx="1691.65" cy="1180.4" r="1.4"/><circle cx="1684.51" cy="1161.76" r="1.4"/><circle cx="1688.81" cy="1166.34" r="1.4"/><circle cx="1688.3" cy="1204.33" r="1.4"/><circle cx="1690.17" cy="1194.18" r="1.4"/><circle cx="1692.35" cy="1181.99" r="1.4"/><circle cx="1692.06" cy="1166.58" r="1.4"/><circle cx="1689.76" cy="1189.1" r="1.4"/><circle cx="1692.52" cy="1155.73" r="1.4"/><circle cx="1692.74" cy="1188.98" r="1.4"/><circle cx="1690.43" cy="1130.06" r="1.4"/><circle cx="1688.04" cy="1178.02" r="1.4"/><circle cx="1692.65" cy="1198.1" r="1.4"/><circle cx="1690.47" cy="1181" r="1.4"/><circle cx="1691.06" cy="1158.18" r="1.4"/><circle cx="1691.81" cy="1197.85" r="1.4"/><circle cx="1690.08" cy="1172.91" r="1.4"/><circle cx="1689.46" cy="1184.75" r="1.4"/><circle cx="1689.65" cy="1150.18" r="1.4"/><circle cx="1680.51" cy="1158.08" r="1.4"/><circle cx="1686.72" cy="1198.37" r="1.4"/><circle cx="1683.39" cy="1166.3" r="1.4"/><circle cx="1689.56" cy="1162.34" r="1.4"/><circle cx="1687.17" cy="1203.19" r="1.4"/><circle cx="1680.91" cy="1195.36" r="1.4"/><circle cx="1684.86" cy="1199.5" r="1.4"/><circle cx="1683" cy="1197.42" r="1.4"/><circle cx="1687.08" cy="1203.42" r="1.4"/><circle cx="1689.28" cy="1187.23" r="1.4"/><circle cx="1683.67" cy="1172.09" r="1.4"/><circle cx="1680.11" cy="1119.25" r="1.4"/><circle cx="1684.28" cy="1185.72" r="1.4"/><circle cx="1681.83" cy="1185.43" r="1.4"/><circle cx="1685.71" cy="1139.57" r="1.4"/><circle cx="1689.3" cy="1203.41" r="1.4"/><circle cx="1688.28" cy="1201.11" r="1.4"/><circle cx="1688.81" cy="1189.57" r="1.4"/><circle cx="1686.39" cy="1142.26" r="1.4"/><circle cx="1689.73" cy="1143.36" r="1.4"/><circle cx="1682.23" cy="1187.87" r="1.4"/><circle cx="1688.56" cy="1171.57" r="1.4"/><circle cx="1685.37" cy="1170.4" r="1.4"/><circle cx="1680.11" cy="1122.75" r="1.4"/><circle cx="1688.59" cy="1200.57" r="1.4"/><circle cx="1682.21" cy="1169.78" r="1.4"/><circle cx="1693.47" cy="1168.4" r="1.4"/><circle cx="1686.58" cy="1187.49" r="1.4"/><circle cx="1684.47" cy="1195.36" r="1.4"/><circle cx="1694.52" cy="1187.26" r="1.4"/><circle cx="1684" cy="1171.58" r="1.4"/><circle cx="1686.33" cy="1179.64" r="1.4"/><circle cx="1694.86" cy="1190.68" r="1.4"/><circle cx="1684.4" cy="1179.97" r="1.4"/><circle cx="1681.93" cy="1181.02" r="1.4"/><circle cx="1686.75" cy="1169.16" r="1.4"/><circle cx="1691.83" cy="1192.05" r="1.4"/><circle cx="1680.3" cy="1140.54" r="1.4"/><circle cx="1684.21" cy="1176.9" r="1.4"/><circle cx="1683.78" cy="1148.99" r="1.4"/><circle cx="1682.42" cy="1193.34" r="1.4"/><circle cx="1689.22" cy="1192.05" r="1.4"/><circle cx="1689.77" cy="1181.18" r="1.4"/><circle cx="1691.25" cy="1170.84" r="1.4"/><circle cx="1691.51" cy="1200.15" r="1.4"/><circle cx="1688.1" cy="1191.66" r="1.4"/><circle cx="1684.55" cy="1189.75" r="1.4"/><circle cx="1687.07" cy="1177.11" r="1.4"/><circle cx="1691.28" cy="1188.35" r="1.4"/><circle cx="1680.65" cy="1172.03" r="1.4"/><circle cx="1686.93" cy="1194.1" r="1.4"/><circle cx="1688.28" cy="1124.6" r="1.4"/><circle cx="1691.78" cy="1204.22" r="1.4"/><circle cx="1688.73" cy="1184.31" r="1.4"/><circle cx="1689.58" cy="1159.65" r="1.4"/><circle cx="1693.78" cy="1180.67" r="1.4"/><circle cx="1685.98" cy="1186.92" r="1.4"/><circle cx="1683.05" cy="1134.81" r="1.4"/><circle cx="1692.55" cy="1191.88" r="1.4"/><circle cx="1692.64" cy="1202.25" r="1.4"/><circle cx="1686.59" cy="1161.31" r="1.4"/><circle cx="1691.81" cy="1192.4" r="1.4"/><circle cx="1687.28" cy="1199.12" r="1.4"/><circle cx="1687.57" cy="1175.58" r="1.4"/><circle cx="1682.4" cy="1190.05" r="1.4"/><circle cx="1692.28" cy="1172.47" r="1.4"/></g>
<line x1="1687.6" y1="1205.86" x2="1687.6" y2="1238.97" stroke="#231f20" stroke-width="2.6"/>
<line x1="1687.6" y1="1261.04" x2="1687.6" y2="1264.72" stroke="#231f20" stroke-width="1.3"/>
<rect x="1662.6" y="1238.97" width="50" height="22.07" fill="#3d66b0"/>
<line x1="1662.6" y1="1253.68" x2="1712.6" y2="1253.68" stroke="#1a1718" stroke-width="2.2"/>
<line x1="1764.3" y1="1284.6" x2="1764.3" y2="1290.6" stroke="#3a3738" stroke-width="1.3"/>
<g fill="#1d1d1f" fill-opacity="0.39" stroke="#1d1d1f" stroke-opacity="0.23" stroke-width="0.9"><circle cx="1771.3" cy="1043.98" r="1.4"/><circle cx="1761.3" cy="1070.47" r="1.4"/><circle cx="1763.8" cy="1098.43" r="1.4"/><circle cx="1770.8" cy="1098.43" r="1.4"/><circle cx="1770.8" cy="1102.11" r="1.4"/><circle cx="1759.8" cy="1110.2" r="1.4"/><circle cx="1764.8" cy="1116.46" r="1.4"/><circle cx="1759.3" cy="1126.39" r="1.4"/><circle cx="1758.3" cy="1127.49" r="1.4"/><circle cx="1770.8" cy="1135.96" r="1.4"/><circle cx="1760.25" cy="1212.81" r="1.4"/><circle cx="1768.68" cy="1160.81" r="1.4"/><circle cx="1757.18" cy="1180.54" r="1.4"/><circle cx="1771.48" cy="1174.44" r="1.4"/><circle cx="1757.53" cy="1176.79" r="1.4"/><circle cx="1760.09" cy="1156.59" r="1.4"/><circle cx="1771.08" cy="1182.18" r="1.4"/><circle cx="1758.82" cy="1175.58" r="1.4"/><circle cx="1770.57" cy="1204.09" r="1.4"/><circle cx="1765.96" cy="1209.92" r="1.4"/><circle cx="1759.22" cy="1198.13" r="1.4"/><circle cx="1757.45" cy="1184.2" r="1.4"/><circle cx="1762.49" cy="1211.43" r="1.4"/><circle cx="1757.66" cy="1212.69" r="1.4"/><circle cx="1767.94" cy="1187.93" r="1.4"/><circle cx="1758.81" cy="1148.3" r="1.4"/><circle cx="1761.52" cy="1197.16" r="1.4"/><circle cx="1764.14" cy="1186.01" r="1.4"/><circle cx="1757.64" cy="1200.21" r="1.4"/><circle cx="1759.07" cy="1177.2" r="1.4"/><circle cx="1764.39" cy="1183.44" r="1.4"/><circle cx="1766.11" cy="1189.41" r="1.4"/><circle cx="1765.08" cy="1205.38" r="1.4"/><circle cx="1768.06" cy="1205.76" r="1.4"/><circle cx="1758.81" cy="1192" r="1.4"/><circle cx="1762.37" cy="1206.59" r="1.4"/><circle cx="1759.49" cy="1172.78" r="1.4"/><circle cx="1766.63" cy="1175.48" r="1.4"/><circle cx="1766.82" cy="1212.23" r="1.4"/><circle cx="1758.67" cy="1212.03" r="1.4"/><circle cx="1760.38" cy="1186.5" r="1.4"/><circle cx="1764.01" cy="1148.69" r="1.4"/><circle cx="1768.75" cy="1202.68" r="1.4"/><circle cx="1767.68" cy="1214.11" r="1.4"/><circle cx="1759.06" cy="1213.31" r="1.4"/><circle cx="1760.15" cy="1178.85" r="1.4"/><circle cx="1771.39" cy="1211.15" r="1.4"/><circle cx="1769.11" cy="1180.41" r="1.4"/><circle cx="1766.17" cy="1210.29" r="1.4"/><circle cx="1760.33" cy="1201.2" r="1.4"/><circle cx="1766.01" cy="1202.21" r="1.4"/><circle cx="1762.59" cy="1201.47" r="1.4"/><circle cx="1769.27" cy="1210.41" r="1.4"/><circle cx="1768.87" cy="1181.99" r="1.4"/><circle cx="1769.57" cy="1197.06" r="1.4"/><circle cx="1765.69" cy="1191.97" r="1.4"/><circle cx="1767.9" cy="1188.08" r="1.4"/><circle cx="1758.25" cy="1199.11" r="1.4"/><circle cx="1759.84" cy="1213.99" r="1.4"/><circle cx="1770.14" cy="1213.78" r="1.4"/><circle cx="1768.21" cy="1194.28" r="1.4"/><circle cx="1763.85" cy="1215.04" r="1.4"/><circle cx="1766.09" cy="1145.2" r="1.4"/><circle cx="1763.78" cy="1197.32" r="1.4"/><circle cx="1759.12" cy="1211.73" r="1.4"/><circle cx="1762.42" cy="1209.57" r="1.4"/><circle cx="1770.01" cy="1199.62" r="1.4"/><circle cx="1760.61" cy="1209.83" r="1.4"/><circle cx="1759.22" cy="1204.76" r="1.4"/><circle cx="1760.33" cy="1204.34" r="1.4"/><circle cx="1757.28" cy="1194.22" r="1.4"/><circle cx="1770.87" cy="1200.47" r="1.4"/><circle cx="1766.91" cy="1178.19" r="1.4"/><circle cx="1770.98" cy="1194.84" r="1.4"/><circle cx="1766.83" cy="1211.08" r="1.4"/><circle cx="1766.92" cy="1204.16" r="1.4"/><circle cx="1759.25" cy="1173.66" r="1.4"/><circle cx="1757.17" cy="1207.95" r="1.4"/><circle cx="1757.97" cy="1206.76" r="1.4"/><circle cx="1771.4" cy="1198.82" r="1.4"/><circle cx="1761.48" cy="1200.71" r="1.4"/><circle cx="1761.05" cy="1195.06" r="1.4"/><circle cx="1767.57" cy="1173.3" r="1.4"/><circle cx="1760.41" cy="1209.4" r="1.4"/><circle cx="1770.91" cy="1179.73" r="1.4"/><circle cx="1763.26" cy="1182.17" r="1.4"/><circle cx="1757.71" cy="1214.86" r="1.4"/><circle cx="1762.95" cy="1167.2" r="1.4"/><circle cx="1765.03" cy="1213.6" r="1.4"/><circle cx="1762.05" cy="1191.88" r="1.4"/><circle cx="1757.87" cy="1211.93" r="1.4"/><circle cx="1764.17" cy="1142.5" r="1.4"/><circle cx="1760.45" cy="1213.3" r="1.4"/><circle cx="1762.76" cy="1213.41" r="1.4"/><circle cx="1760.63" cy="1213.09" r="1.4"/><circle cx="1761.39" cy="1198.48" r="1.4"/><circle cx="1757.36" cy="1213.38" r="1.4"/><circle cx="1764.43" cy="1208.79" r="1.4"/><circle cx="1764.77" cy="1198.75" r="1.4"/><circle cx="1761.51" cy="1212.26" r="1.4"/><circle cx="1764.93" cy="1211.43" r="1.4"/><circle cx="1769.65" cy="1186.17" r="1.4"/><circle cx="1757.06" cy="1207.41" r="1.4"/><circle cx="1764.1" cy="1190.48" r="1.4"/><circle cx="1762.45" cy="1188.22" r="1.4"/><circle cx="1767.68" cy="1183.98" r="1.4"/><circle cx="1763.54" cy="1203.41" r="1.4"/><circle cx="1760.16" cy="1159.59" r="1.4"/><circle cx="1761.48" cy="1211.16" r="1.4"/><circle cx="1768.39" cy="1212.15" r="1.4"/><circle cx="1761.49" cy="1160.84" r="1.4"/><circle cx="1758.03" cy="1210.65" r="1.4"/><circle cx="1758.06" cy="1206.16" r="1.4"/><circle cx="1765.45" cy="1197.32" r="1.4"/><circle cx="1757.72" cy="1206.14" r="1.4"/></g>
<line x1="1764.3" y1="1216.89" x2="1764.3" y2="1242.65" stroke="#231f20" stroke-width="2"/>
<line x1="1764.3" y1="1261.04" x2="1764.3" y2="1264.72" stroke="#231f20" stroke-width="1.3"/>
<rect x="1739.3" y="1242.65" width="50" height="18.39" fill="#3d66b0"/>
<line x1="1739.3" y1="1253.68" x2="1789.3" y2="1253.68" stroke="#1a1718" stroke-width="2.2"/>
<rect x="1085.4" y="1316.8" width="169.2" height="349.1" fill="none" stroke="#3a3738" stroke-width="1.4"/>
<line x1="1079.9" y1="1649.6" x2="1085.4" y2="1649.6" stroke="#3a3738" stroke-width="1.3"/>
<text x="1053.59" y="1657.95" font-size="23.6" textLength="13.91" lengthAdjust="spacingAndGlyphs">0</text>
<line x1="1079.9" y1="1588.3" x2="1085.4" y2="1588.3" stroke="#3a3738" stroke-width="1.3"/>
<text x="1039.68" y="1596.65" font-size="23.6" textLength="27.82" lengthAdjust="spacingAndGlyphs">10</text>
<line x1="1079.9" y1="1527" x2="1085.4" y2="1527" stroke="#3a3738" stroke-width="1.3"/>
<text x="1039.68" y="1535.35" font-size="23.6" textLength="27.82" lengthAdjust="spacingAndGlyphs">20</text>
<line x1="1079.9" y1="1465.7" x2="1085.4" y2="1465.7" stroke="#3a3738" stroke-width="1.3"/>
<text x="1039.68" y="1474.05" font-size="23.6" textLength="27.82" lengthAdjust="spacingAndGlyphs">30</text>
<line x1="1079.9" y1="1404.4" x2="1085.4" y2="1404.4" stroke="#3a3738" stroke-width="1.3"/>
<text x="1039.68" y="1412.75" font-size="23.6" textLength="27.82" lengthAdjust="spacingAndGlyphs">40</text>
<line x1="1079.9" y1="1343.1" x2="1085.4" y2="1343.1" stroke="#3a3738" stroke-width="1.3"/>
<text x="1039.68" y="1351.45" font-size="23.6" textLength="27.82" lengthAdjust="spacingAndGlyphs">50</text>
<line x1="1131.6" y1="1665.9" x2="1131.6" y2="1671.9" stroke="#3a3738" stroke-width="1.3"/>
<g fill="#1d1d1f" fill-opacity="0.39" stroke="#1d1d1f" stroke-opacity="0.23" stroke-width="0.9"><circle cx="1126.1" cy="1373.75" r="1.4"/><circle cx="1131.6" cy="1377.43" r="1.4"/><circle cx="1126.1" cy="1520.87" r="1.4"/><circle cx="1130.6" cy="1538.65" r="1.4"/><circle cx="1126.1" cy="1547.84" r="1.4"/><circle cx="1135.6" cy="1571.14" r="1.4"/><circle cx="1126.6" cy="1578.49" r="1.4"/><circle cx="1136.6" cy="1579.72" r="1.4"/><circle cx="1124.82" cy="1584.08" r="1.4"/><circle cx="1128.39" cy="1596.01" r="1.4"/><circle cx="1125.58" cy="1593.04" r="1.4"/><circle cx="1128.81" cy="1592.1" r="1.4"/><circle cx="1132.44" cy="1581.78" r="1.4"/><circle cx="1135.5" cy="1585.84" r="1.4"/><circle cx="1130.73" cy="1588.34" r="1.4"/><circle cx="1138.42" cy="1585.79" r="1.4"/><circle cx="1134.62" cy="1582.92" r="1.4"/><circle cx="1136.28" cy="1594.94" r="1.4"/><circle cx="1126.05" cy="1592.87" r="1.4"/><circle cx="1126.64" cy="1597.89" r="1.4"/><circle cx="1134.24" cy="1595.02" r="1.4"/><circle cx="1125.05" cy="1594.64" r="1.4"/><circle cx="1132.46" cy="1581.21" r="1.4"/><circle cx="1124.86" cy="1598.38" r="1.4"/><circle cx="1129.46" cy="1597.03" r="1.4"/><circle cx="1127.57" cy="1587.23" r="1.4"/><circle cx="1129.54" cy="1591.92" r="1.4"/><circle cx="1124.29" cy="1593.85" r="1.4"/><circle cx="1136.5" cy="1588.06" r="1.4"/><circle cx="1125.53" cy="1582.97" r="1.4"/><circle cx="1126.67" cy="1589.55" r="1.4"/><circle cx="1130.79" cy="1583.72" r="1.4"/><circle cx="1125.87" cy="1579.5" r="1.4"/><circle cx="1137.82" cy="1594.09" r="1.4"/><circle cx="1130.61" cy="1591.22" r="1.4"/><circle cx="1135.61" cy="1591.65" r="1.4"/><circle cx="1138.64" cy="1589.49" r="1.4"/><circle cx="1125.65" cy="1587.72" r="1.4"/><circle cx="1124.88" cy="1592.12" r="1.4"/><circle cx="1132.75" cy="1598.32" r="1.4"/><circle cx="1137.33" cy="1590.74" r="1.4"/><circle cx="1127.33" cy="1592.67" r="1.4"/><circle cx="1127.12" cy="1594.78" r="1.4"/><circle cx="1129.45" cy="1588.69" r="1.4"/></g>
<line x1="1131.6" y1="1599.03" x2="1131.6" y2="1622.63" stroke="#231f20" stroke-width="1.3"/>
<line x1="1131.6" y1="1638.26" x2="1131.6" y2="1647.39" stroke="#231f20" stroke-width="1.3"/>
<rect x="1106.6" y="1622.63" width="50" height="15.63" fill="#b06a58"/>
<line x1="1106.6" y1="1631.82" x2="1156.6" y2="1631.82" stroke="#1a1718" stroke-width="2.2"/>
<line x1="1208.3" y1="1665.9" x2="1208.3" y2="1671.9" stroke="#3a3738" stroke-width="1.3"/>
<g fill="#1d1d1f" fill-opacity="0.39" stroke="#1d1d1f" stroke-opacity="0.23" stroke-width="0.9"><circle cx="1204.3" cy="1402.56" r="1.4"/><circle cx="1201.3" cy="1440.57" r="1.4"/><circle cx="1211.8" cy="1457.73" r="1.4"/><circle cx="1205.8" cy="1495.12" r="1.4"/><circle cx="1210.3" cy="1546.62" r="1.4"/><circle cx="1204.8" cy="1563.78" r="1.4"/><circle cx="1206.3" cy="1566.84" r="1.4"/><circle cx="1210.3" cy="1571.14" r="1.4"/><circle cx="1203.3" cy="1571.14" r="1.4"/><circle cx="1202.3" cy="1572.97" r="1.4"/><circle cx="1200.8" cy="1574.2" r="1.4"/><circle cx="1204.8" cy="1582.17" r="1.4"/><circle cx="1206.8" cy="1584.01" r="1.4"/><circle cx="1206.3" cy="1587.07" r="1.4"/><circle cx="1204.3" cy="1587.07" r="1.4"/><circle cx="1212.8" cy="1589.53" r="1.4"/><circle cx="1213.8" cy="1590.75" r="1.4"/><circle cx="1211.3" cy="1591.98" r="1.4"/><circle cx="1209.8" cy="1593.2" r="1.4"/><circle cx="1202.8" cy="1594.43" r="1.4"/></g>
<line x1="1208.3" y1="1595.04" x2="1208.3" y2="1621.4" stroke="#231f20" stroke-width="1.3"/>
<line x1="1208.3" y1="1639.61" x2="1208.3" y2="1647.39" stroke="#231f20" stroke-width="1.3"/>
<rect x="1183.3" y="1621.4" width="50" height="18.21" fill="#b06a58"/>
<line x1="1183.3" y1="1632.74" x2="1233.3" y2="1632.74" stroke="#1a1718" stroke-width="2.2"/>
<rect x="1370.3" y="1318.3" width="169" height="348.8" fill="none" stroke="#3a3738" stroke-width="1.4"/>
<line x1="1364.8" y1="1651" x2="1370.3" y2="1651" stroke="#3a3738" stroke-width="1.3"/>
<text x="1338.49" y="1659.35" font-size="23.6" textLength="13.91" lengthAdjust="spacingAndGlyphs">0</text>
<line x1="1364.8" y1="1559" x2="1370.3" y2="1559" stroke="#3a3738" stroke-width="1.3"/>
<text x="1324.58" y="1567.35" font-size="23.6" textLength="27.82" lengthAdjust="spacingAndGlyphs">20</text>
<line x1="1364.8" y1="1467" x2="1370.3" y2="1467" stroke="#3a3738" stroke-width="1.3"/>
<text x="1324.58" y="1475.35" font-size="23.6" textLength="27.82" lengthAdjust="spacingAndGlyphs">40</text>
<line x1="1364.8" y1="1375" x2="1370.3" y2="1375" stroke="#3a3738" stroke-width="1.3"/>
<text x="1324.58" y="1383.35" font-size="23.6" textLength="27.82" lengthAdjust="spacingAndGlyphs">60</text>
<line x1="1416.4" y1="1667.1" x2="1416.4" y2="1673.1" stroke="#3a3738" stroke-width="1.3"/>
<g fill="#1d1d1f" fill-opacity="0.39" stroke="#1d1d1f" stroke-opacity="0.23" stroke-width="0.9"><circle cx="1422.4" cy="1375" r="1.4"/><circle cx="1422.4" cy="1414.1" r="1.4"/><circle cx="1419.4" cy="1423.76" r="1.4"/><circle cx="1422.4" cy="1466.08" r="1.4"/><circle cx="1418.4" cy="1480.8" r="1.4"/><circle cx="1415.9" cy="1496.44" r="1.4"/><circle cx="1420.9" cy="1497.36" r="1.4"/><circle cx="1423.9" cy="1495.98" r="1.4"/><circle cx="1419.9" cy="1501.04" r="1.4"/><circle cx="1420.4" cy="1506.1" r="1.4"/><circle cx="1413.4" cy="1506.56" r="1.4"/><circle cx="1411.4" cy="1508.4" r="1.4"/><circle cx="1409.9" cy="1510.24" r="1.4"/><circle cx="1413.4" cy="1510.7" r="1.4"/></g>
<line x1="1416.4" y1="1522.2" x2="1416.4" y2="1577.4" stroke="#231f20" stroke-width="1.3"/>
<line x1="1416.4" y1="1614.2" x2="1416.4" y2="1632.6" stroke="#231f20" stroke-width="1.3"/>
<rect x="1391.4" y="1577.4" width="50" height="36.8" fill="#85b283"/>
<line x1="1391.4" y1="1595.8" x2="1441.4" y2="1595.8" stroke="#1a1718" stroke-width="2.2"/>
<line x1="1493.2" y1="1667.1" x2="1493.2" y2="1673.1" stroke="#3a3738" stroke-width="1.3"/>
<g fill="#1d1d1f" fill-opacity="0.39" stroke="#1d1d1f" stroke-opacity="0.23" stroke-width="0.9"><circle cx="1486.7" cy="1436.64" r="1.4"/><circle cx="1488.7" cy="1451.82" r="1.4"/><circle cx="1499.2" cy="1452.74" r="1.4"/><circle cx="1488.2" cy="1486.32" r="1.4"/><circle cx="1496.2" cy="1486.32" r="1.4"/><circle cx="1498.7" cy="1483.56" r="1.4"/><circle cx="1495.7" cy="1487.24" r="1.4"/><circle cx="1499.7" cy="1491.84" r="1.4"/></g>
<line x1="1493.2" y1="1503.8" x2="1493.2" y2="1577.4" stroke="#231f20" stroke-width="1.3"/>
<line x1="1493.2" y1="1632.6" x2="1493.2" y2="1632.55" stroke="#231f20" stroke-width="1.3"/>
<rect x="1468.2" y="1577.4" width="50" height="55.2" fill="#85b283"/>
<line x1="1468.2" y1="1595.8" x2="1518.2" y2="1595.8" stroke="#1a1718" stroke-width="2.2"/>
<rect x="1641.4" y="1318.3" width="169.3" height="348.8" fill="none" stroke="#3a3738" stroke-width="1.4"/>
<line x1="1635.9" y1="1651" x2="1641.4" y2="1651" stroke="#3a3738" stroke-width="1.3"/>
<text x="1609.59" y="1659.35" font-size="23.6" textLength="13.91" lengthAdjust="spacingAndGlyphs">0</text>
<line x1="1635.9" y1="1569.8" x2="1641.4" y2="1569.8" stroke="#3a3738" stroke-width="1.3"/>
<text x="1609.59" y="1578.15" font-size="23.6" textLength="13.91" lengthAdjust="spacingAndGlyphs">5</text>
<line x1="1635.9" y1="1488.6" x2="1641.4" y2="1488.6" stroke="#3a3738" stroke-width="1.3"/>
<text x="1595.68" y="1496.95" font-size="23.6" textLength="27.82" lengthAdjust="spacingAndGlyphs">10</text>
<line x1="1635.9" y1="1407.4" x2="1641.4" y2="1407.4" stroke="#3a3738" stroke-width="1.3"/>
<text x="1595.68" y="1415.75" font-size="23.6" textLength="27.82" lengthAdjust="spacingAndGlyphs">15</text>
<line x1="1635.9" y1="1326.2" x2="1641.4" y2="1326.2" stroke="#3a3738" stroke-width="1.3"/>
<text x="1595.68" y="1334.55" font-size="23.6" textLength="27.82" lengthAdjust="spacingAndGlyphs">20</text>
<line x1="1687.6" y1="1667.1" x2="1687.6" y2="1673.1" stroke="#3a3738" stroke-width="1.3"/>
<g fill="#1d1d1f" fill-opacity="0.39" stroke="#1d1d1f" stroke-opacity="0.23" stroke-width="0.9"><circle cx="1680.6" cy="1378.17" r="1.4"/><circle cx="1693.1" cy="1374.92" r="1.4"/><circle cx="1694.6" cy="1443.13" r="1.4"/><circle cx="1690.1" cy="1452.87" r="1.4"/><circle cx="1681.6" cy="1459.37" r="1.4"/><circle cx="1680.6" cy="1458.56" r="1.4"/><circle cx="1684.6" cy="1471.55" r="1.4"/><circle cx="1686.6" cy="1472.36" r="1.4"/><circle cx="1688.6" cy="1472.36" r="1.4"/><circle cx="1691.1" cy="1471.55" r="1.4"/><circle cx="1682.6" cy="1483.73" r="1.4"/><circle cx="1690.6" cy="1482.92" r="1.4"/><circle cx="1695.1" cy="1482.92" r="1.4"/><circle cx="1687.6" cy="1482.1" r="1.4"/><circle cx="1683.72" cy="1513.46" r="1.4"/><circle cx="1683.82" cy="1534.91" r="1.4"/><circle cx="1692.85" cy="1503.53" r="1.4"/><circle cx="1686.11" cy="1523.05" r="1.4"/><circle cx="1692.58" cy="1541.17" r="1.4"/><circle cx="1680.67" cy="1529.53" r="1.4"/><circle cx="1681.58" cy="1540.46" r="1.4"/><circle cx="1693.6" cy="1516.28" r="1.4"/><circle cx="1692.06" cy="1539.65" r="1.4"/><circle cx="1690.34" cy="1535.85" r="1.4"/><circle cx="1689.45" cy="1500.06" r="1.4"/><circle cx="1685.75" cy="1508.52" r="1.4"/><circle cx="1687.78" cy="1544.4" r="1.4"/><circle cx="1682.87" cy="1524.83" r="1.4"/><circle cx="1684.86" cy="1533.58" r="1.4"/><circle cx="1684.78" cy="1544.01" r="1.4"/><circle cx="1687.24" cy="1533.81" r="1.4"/><circle cx="1686.09" cy="1517.39" r="1.4"/><circle cx="1693.96" cy="1506.75" r="1.4"/><circle cx="1690.15" cy="1518.18" r="1.4"/><circle cx="1692.08" cy="1527.38" r="1.4"/><circle cx="1689" cy="1534.53" r="1.4"/><circle cx="1687.93" cy="1519.13" r="1.4"/><circle cx="1681.27" cy="1537.14" r="1.4"/><circle cx="1685.44" cy="1542.58" r="1.4"/><circle cx="1691.49" cy="1525.17" r="1.4"/><circle cx="1684.7" cy="1516.54" r="1.4"/><circle cx="1690.84" cy="1537.43" r="1.4"/><circle cx="1691.4" cy="1542.95" r="1.4"/><circle cx="1694.45" cy="1519.79" r="1.4"/><circle cx="1690.42" cy="1493.65" r="1.4"/><circle cx="1691.18" cy="1503.8" r="1.4"/><circle cx="1683.23" cy="1523.47" r="1.4"/><circle cx="1693.54" cy="1528.33" r="1.4"/><circle cx="1694.72" cy="1538.5" r="1.4"/><circle cx="1686" cy="1527.03" r="1.4"/><circle cx="1685.95" cy="1544.56" r="1.4"/><circle cx="1689.9" cy="1540.23" r="1.4"/><circle cx="1693.75" cy="1493.13" r="1.4"/><circle cx="1685.9" cy="1523.32" r="1.4"/><circle cx="1690.43" cy="1542.04" r="1.4"/><circle cx="1690.83" cy="1526.56" r="1.4"/><circle cx="1693.4" cy="1534.13" r="1.4"/><circle cx="1684.68" cy="1539.27" r="1.4"/><circle cx="1689.43" cy="1537.65" r="1.4"/><circle cx="1682.61" cy="1493.63" r="1.4"/><circle cx="1691.6" cy="1522.17" r="1.4"/><circle cx="1681.04" cy="1538.93" r="1.4"/><circle cx="1692.55" cy="1525.93" r="1.4"/><circle cx="1691.02" cy="1497.37" r="1.4"/><circle cx="1686.48" cy="1532.54" r="1.4"/><circle cx="1693.67" cy="1527.77" r="1.4"/><circle cx="1684.31" cy="1536.56" r="1.4"/><circle cx="1694.6" cy="1523.79" r="1.4"/><circle cx="1680.56" cy="1539.98" r="1.4"/><circle cx="1688.54" cy="1541.87" r="1.4"/><circle cx="1682.86" cy="1523.9" r="1.4"/><circle cx="1689.02" cy="1539.9" r="1.4"/><circle cx="1690.45" cy="1521.33" r="1.4"/><circle cx="1681.02" cy="1515.37" r="1.4"/><circle cx="1692.62" cy="1529.77" r="1.4"/><circle cx="1692.86" cy="1536.04" r="1.4"/><circle cx="1694" cy="1521.41" r="1.4"/><circle cx="1690.55" cy="1538.8" r="1.4"/><circle cx="1687.25" cy="1503.46" r="1.4"/><circle cx="1683" cy="1542.25" r="1.4"/><circle cx="1681.49" cy="1540.81" r="1.4"/><circle cx="1689.34" cy="1540.93" r="1.4"/><circle cx="1691.47" cy="1542.14" r="1.4"/><circle cx="1692.35" cy="1514.76" r="1.4"/><circle cx="1690.8" cy="1508.14" r="1.4"/><circle cx="1694.58" cy="1522.64" r="1.4"/><circle cx="1681.64" cy="1542.18" r="1.4"/><circle cx="1683.2" cy="1543.13" r="1.4"/><circle cx="1686.98" cy="1534.11" r="1.4"/><circle cx="1691.24" cy="1519.06" r="1.4"/><circle cx="1686.15" cy="1542.67" r="1.4"/><circle cx="1685.73" cy="1527.06" r="1.4"/><circle cx="1689.06" cy="1541.83" r="1.4"/><circle cx="1690.36" cy="1534.12" r="1.4"/><circle cx="1694.54" cy="1529.29" r="1.4"/><circle cx="1691.5" cy="1542.95" r="1.4"/><circle cx="1684.54" cy="1516" r="1.4"/><circle cx="1687.29" cy="1541.84" r="1.4"/><circle cx="1691.16" cy="1534.83" r="1.4"/></g>
<line x1="1687.6" y1="1553.56" x2="1687.6" y2="1602.28" stroke="#231f20" stroke-width="1.3"/>
<line x1="1687.6" y1="1634.76" x2="1687.6" y2="1634.76" stroke="#231f20" stroke-width="1.3"/>
<rect x="1662.6" y="1602.28" width="50" height="32.48" fill="#3d66b0"/>
<line x1="1662.6" y1="1618.52" x2="1712.6" y2="1618.52" stroke="#1a1718" stroke-width="2.2"/>
<line x1="1764.3" y1="1667.1" x2="1764.3" y2="1673.1" stroke="#3a3738" stroke-width="1.3"/>
<g fill="#1d1d1f" fill-opacity="0.39" stroke="#1d1d1f" stroke-opacity="0.23" stroke-width="0.9"><circle cx="1767.3" cy="1423.64" r="1.4"/><circle cx="1762.3" cy="1433.38" r="1.4"/><circle cx="1762.3" cy="1445.56" r="1.4"/><circle cx="1762.3" cy="1449.62" r="1.4"/><circle cx="1759.3" cy="1457.74" r="1.4"/><circle cx="1763.3" cy="1473.17" r="1.4"/><circle cx="1768.3" cy="1477.23" r="1.4"/><circle cx="1770.3" cy="1485.35" r="1.4"/><circle cx="1770.8" cy="1489.41" r="1.4"/><circle cx="1761.16" cy="1532.59" r="1.4"/><circle cx="1767.25" cy="1527.35" r="1.4"/><circle cx="1765.44" cy="1505.72" r="1.4"/><circle cx="1761.85" cy="1535.85" r="1.4"/><circle cx="1764.59" cy="1497.51" r="1.4"/><circle cx="1763.11" cy="1543.33" r="1.4"/><circle cx="1766.79" cy="1537.84" r="1.4"/><circle cx="1760.87" cy="1542.72" r="1.4"/><circle cx="1763.96" cy="1542.1" r="1.4"/><circle cx="1762.59" cy="1525.13" r="1.4"/><circle cx="1762.14" cy="1542.22" r="1.4"/><circle cx="1756.88" cy="1502.99" r="1.4"/><circle cx="1762.22" cy="1508.31" r="1.4"/><circle cx="1760.56" cy="1544.21" r="1.4"/><circle cx="1762.54" cy="1529.3" r="1.4"/><circle cx="1757.6" cy="1526.44" r="1.4"/><circle cx="1771.41" cy="1538.46" r="1.4"/><circle cx="1763.88" cy="1530.01" r="1.4"/><circle cx="1760.99" cy="1542.4" r="1.4"/><circle cx="1764.42" cy="1515.57" r="1.4"/><circle cx="1762.69" cy="1543.27" r="1.4"/><circle cx="1763.32" cy="1506.94" r="1.4"/><circle cx="1770.34" cy="1522.11" r="1.4"/><circle cx="1766.34" cy="1518.72" r="1.4"/><circle cx="1757.16" cy="1543.71" r="1.4"/><circle cx="1763" cy="1507.92" r="1.4"/><circle cx="1769.19" cy="1492.78" r="1.4"/><circle cx="1762.48" cy="1482.87" r="1.4"/><circle cx="1770.18" cy="1509.32" r="1.4"/><circle cx="1768.51" cy="1540.62" r="1.4"/><circle cx="1771.38" cy="1530.91" r="1.4"/><circle cx="1763.12" cy="1538.52" r="1.4"/><circle cx="1763.85" cy="1536.73" r="1.4"/><circle cx="1766.8" cy="1536.19" r="1.4"/><circle cx="1759.34" cy="1541.34" r="1.4"/><circle cx="1757.91" cy="1529.33" r="1.4"/><circle cx="1770.26" cy="1532.63" r="1.4"/><circle cx="1759.75" cy="1490.47" r="1.4"/><circle cx="1769.22" cy="1544.16" r="1.4"/><circle cx="1758.85" cy="1521.78" r="1.4"/><circle cx="1770.6" cy="1537.88" r="1.4"/><circle cx="1759.57" cy="1543.84" r="1.4"/><circle cx="1760.8" cy="1530.61" r="1.4"/><circle cx="1762.39" cy="1509.57" r="1.4"/><circle cx="1759.08" cy="1507.3" r="1.4"/><circle cx="1771.42" cy="1526.36" r="1.4"/><circle cx="1758.15" cy="1514.35" r="1.4"/><circle cx="1766.45" cy="1541.69" r="1.4"/><circle cx="1762.33" cy="1532.87" r="1.4"/><circle cx="1765.53" cy="1528.38" r="1.4"/><circle cx="1765.33" cy="1537.73" r="1.4"/><circle cx="1764.98" cy="1536.99" r="1.4"/><circle cx="1758.8" cy="1511.75" r="1.4"/><circle cx="1767.39" cy="1528.22" r="1.4"/><circle cx="1768.37" cy="1544.42" r="1.4"/><circle cx="1764.36" cy="1531.05" r="1.4"/><circle cx="1768.69" cy="1521.05" r="1.4"/><circle cx="1764.31" cy="1543.19" r="1.4"/><circle cx="1762.58" cy="1543.65" r="1.4"/><circle cx="1757.12" cy="1534.02" r="1.4"/><circle cx="1763.55" cy="1535.79" r="1.4"/><circle cx="1770.67" cy="1518.02" r="1.4"/><circle cx="1764.75" cy="1533.05" r="1.4"/><circle cx="1770.86" cy="1513.39" r="1.4"/><circle cx="1759.3" cy="1535.64" r="1.4"/><circle cx="1763.53" cy="1542.61" r="1.4"/><circle cx="1764.73" cy="1511.3" r="1.4"/><circle cx="1770.67" cy="1532.32" r="1.4"/><circle cx="1765.08" cy="1535.74" r="1.4"/><circle cx="1758.87" cy="1500.36" r="1.4"/><circle cx="1764.21" cy="1533.82" r="1.4"/><circle cx="1759.91" cy="1523.76" r="1.4"/><circle cx="1757.7" cy="1529.5" r="1.4"/><circle cx="1761.93" cy="1542.33" r="1.4"/><circle cx="1771.31" cy="1540.75" r="1.4"/><circle cx="1760.94" cy="1536.99" r="1.4"/><circle cx="1767.92" cy="1506.34" r="1.4"/><circle cx="1769.24" cy="1537.03" r="1.4"/><circle cx="1762.63" cy="1520.05" r="1.4"/><circle cx="1760.49" cy="1519.84" r="1.4"/><circle cx="1769.95" cy="1536.98" r="1.4"/><circle cx="1770.26" cy="1530.19" r="1.4"/><circle cx="1758.86" cy="1539.76" r="1.4"/><circle cx="1767.9" cy="1543.29" r="1.4"/><circle cx="1756.94" cy="1524.03" r="1.4"/><circle cx="1769.16" cy="1543.52" r="1.4"/><circle cx="1769.87" cy="1527.57" r="1.4"/><circle cx="1765.63" cy="1543.61" r="1.4"/><circle cx="1767.62" cy="1541.5" r="1.4"/><circle cx="1765.98" cy="1520.99" r="1.4"/><circle cx="1771.04" cy="1538.37" r="1.4"/><circle cx="1757.76" cy="1541.68" r="1.4"/><circle cx="1758.19" cy="1515.81" r="1.4"/><circle cx="1763.7" cy="1542.9" r="1.4"/><circle cx="1770.18" cy="1518.45" r="1.4"/><circle cx="1757.84" cy="1512.71" r="1.4"/><circle cx="1769.45" cy="1518.86" r="1.4"/><circle cx="1768.12" cy="1541.42" r="1.4"/><circle cx="1761.28" cy="1537.14" r="1.4"/><circle cx="1768.17" cy="1544.59" r="1.4"/></g>
<line x1="1764.3" y1="1553.56" x2="1764.3" y2="1602.28" stroke="#231f20" stroke-width="1.3"/>
<line x1="1764.3" y1="1634.76" x2="1764.3" y2="1634.76" stroke="#231f20" stroke-width="1.3"/>
<rect x="1739.3" y="1602.28" width="50" height="32.48" fill="#3d66b0"/>
<line x1="1739.3" y1="1618.52" x2="1789.3" y2="1618.52" stroke="#1a1718" stroke-width="2.2"/>
<rect x="1085.4" y="1694.3" width="169.2" height="349.1" fill="none" stroke="#3a3738" stroke-width="1.4"/>
<line x1="1079.9" y1="2027.4" x2="1085.4" y2="2027.4" stroke="#3a3738" stroke-width="1.3"/>
<text x="1053.59" y="2035.75" font-size="23.6" textLength="13.91" lengthAdjust="spacingAndGlyphs">0</text>
<line x1="1079.9" y1="1962.7" x2="1085.4" y2="1962.7" stroke="#3a3738" stroke-width="1.3"/>
<text x="1053.59" y="1971.05" font-size="23.6" textLength="13.91" lengthAdjust="spacingAndGlyphs">5</text>
<line x1="1079.9" y1="1898" x2="1085.4" y2="1898" stroke="#3a3738" stroke-width="1.3"/>
<text x="1039.68" y="1906.35" font-size="23.6" textLength="27.82" lengthAdjust="spacingAndGlyphs">10</text>
<line x1="1079.9" y1="1833.3" x2="1085.4" y2="1833.3" stroke="#3a3738" stroke-width="1.3"/>
<text x="1039.68" y="1841.65" font-size="23.6" textLength="27.82" lengthAdjust="spacingAndGlyphs">15</text>
<line x1="1079.9" y1="1768.6" x2="1085.4" y2="1768.6" stroke="#3a3738" stroke-width="1.3"/>
<text x="1039.68" y="1776.95" font-size="23.6" textLength="27.82" lengthAdjust="spacingAndGlyphs">20</text>
<line x1="1079.9" y1="1703.9" x2="1085.4" y2="1703.9" stroke="#3a3738" stroke-width="1.3"/>
<text x="1039.68" y="1712.25" font-size="23.6" textLength="27.82" lengthAdjust="spacingAndGlyphs">25</text>
<line x1="1131.6" y1="2043.4" x2="1131.6" y2="2049.4" stroke="#3a3738" stroke-width="1.3"/>
<g fill="#1d1d1f" fill-opacity="0.39" stroke="#1d1d1f" stroke-opacity="0.23" stroke-width="0.9"><circle cx="1138.6" cy="1751.78" r="1.4"/><circle cx="1133.6" cy="1835.89" r="1.4"/><circle cx="1133.1" cy="1842.36" r="1.4"/><circle cx="1124.6" cy="1852.71" r="1.4"/><circle cx="1128.1" cy="1872.12" r="1.4"/><circle cx="1127.6" cy="1874.71" r="1.4"/><circle cx="1128.6" cy="1877.3" r="1.4"/><circle cx="1129.1" cy="1881.18" r="1.4"/><circle cx="1134.6" cy="1882.47" r="1.4"/><circle cx="1134.1" cy="1886.35" r="1.4"/><circle cx="1131.6" cy="1887.65" r="1.4"/><circle cx="1134.1" cy="1892.82" r="1.4"/><circle cx="1127.6" cy="1894.12" r="1.4"/><circle cx="1137.63" cy="1914.49" r="1.4"/><circle cx="1126.43" cy="1917.53" r="1.4"/><circle cx="1128.05" cy="1929.31" r="1.4"/><circle cx="1125.42" cy="1929.75" r="1.4"/><circle cx="1125.29" cy="1923.42" r="1.4"/><circle cx="1133.42" cy="1919.77" r="1.4"/><circle cx="1126.72" cy="1904.43" r="1.4"/><circle cx="1131.47" cy="1932.22" r="1.4"/><circle cx="1130.81" cy="1901.03" r="1.4"/><circle cx="1137.78" cy="1910.59" r="1.4"/><circle cx="1128.12" cy="1931.99" r="1.4"/><circle cx="1132.14" cy="1915.85" r="1.4"/><circle cx="1134.04" cy="1911.86" r="1.4"/><circle cx="1135.86" cy="1920.06" r="1.4"/><circle cx="1125.72" cy="1926.12" r="1.4"/><circle cx="1129.46" cy="1927.58" r="1.4"/><circle cx="1133.54" cy="1927.35" r="1.4"/><circle cx="1138.44" cy="1905.3" r="1.4"/><circle cx="1135.65" cy="1933.01" r="1.4"/><circle cx="1125.64" cy="1924.19" r="1.4"/><circle cx="1136.77" cy="1906.03" r="1.4"/><circle cx="1124.85" cy="1909.92" r="1.4"/><circle cx="1133.64" cy="1921.89" r="1.4"/><circle cx="1128.01" cy="1897.17" r="1.4"/><circle cx="1129.04" cy="1920.66" r="1.4"/><circle cx="1125.07" cy="1933.71" r="1.4"/><circle cx="1130.26" cy="1897.96" r="1.4"/><circle cx="1128.62" cy="1934.83" r="1.4"/><circle cx="1138.25" cy="1930.7" r="1.4"/><circle cx="1125.66" cy="1915.08" r="1.4"/><circle cx="1127.49" cy="1920.25" r="1.4"/><circle cx="1132.57" cy="1935.98" r="1.4"/><circle cx="1125.72" cy="1926.27" r="1.4"/><circle cx="1138.1" cy="1914.75" r="1.4"/><circle cx="1125.64" cy="1917.49" r="1.4"/><circle cx="1132.16" cy="1933.06" r="1.4"/><circle cx="1138.91" cy="1934.13" r="1.4"/><circle cx="1130.66" cy="1912.72" r="1.4"/><circle cx="1132.36" cy="1927.04" r="1.4"/><circle cx="1127.24" cy="1919.62" r="1.4"/><circle cx="1137.87" cy="1914.56" r="1.4"/><circle cx="1133.61" cy="1922.01" r="1.4"/><circle cx="1136.26" cy="1924.68" r="1.4"/><circle cx="1126.19" cy="1913.63" r="1.4"/><circle cx="1138.18" cy="1935.12" r="1.4"/><circle cx="1130.75" cy="1917.5" r="1.4"/><circle cx="1131.6" cy="1910.54" r="1.4"/><circle cx="1135.26" cy="1926.53" r="1.4"/></g>
<line x1="1131.6" y1="1938.76" x2="1131.6" y2="1980.82" stroke="#231f20" stroke-width="2"/>
<line x1="1131.6" y1="2009.93" x2="1131.6" y2="2024.81" stroke="#231f20" stroke-width="1.3"/>
<rect x="1106.6" y="1980.82" width="50" height="29.12" fill="#b06a58"/>
<line x1="1106.6" y1="1998.29" x2="1156.6" y2="1998.29" stroke="#1a1718" stroke-width="2.2"/>
<line x1="1208.3" y1="2043.4" x2="1208.3" y2="2049.4" stroke="#3a3738" stroke-width="1.3"/>
<g fill="#1d1d1f" fill-opacity="0.39" stroke="#1d1d1f" stroke-opacity="0.23" stroke-width="0.9"><circle cx="1210.3" cy="1776.36" r="1.4"/><circle cx="1209.3" cy="1791.89" r="1.4"/><circle cx="1206.8" cy="1811.3" r="1.4"/><circle cx="1213.8" cy="1843.65" r="1.4"/><circle cx="1211.3" cy="1847.53" r="1.4"/><circle cx="1205.3" cy="1866.94" r="1.4"/><circle cx="1213.8" cy="1872.12" r="1.4"/><circle cx="1212.8" cy="1872.77" r="1.4"/><circle cx="1210.3" cy="1882.47" r="1.4"/><circle cx="1207.86" cy="1937.47" r="1.4"/><circle cx="1209.87" cy="1895.69" r="1.4"/><circle cx="1203.84" cy="1943.11" r="1.4"/><circle cx="1211.74" cy="1904.37" r="1.4"/><circle cx="1215.76" cy="1944.44" r="1.4"/><circle cx="1203.32" cy="1943.15" r="1.4"/><circle cx="1207.5" cy="1944.97" r="1.4"/><circle cx="1213.66" cy="1912.57" r="1.4"/><circle cx="1211.28" cy="1941.85" r="1.4"/><circle cx="1209.51" cy="1944.34" r="1.4"/><circle cx="1206.14" cy="1937.69" r="1.4"/><circle cx="1211.61" cy="1946.46" r="1.4"/><circle cx="1212.26" cy="1943.62" r="1.4"/><circle cx="1209.68" cy="1933.23" r="1.4"/><circle cx="1208.13" cy="1910.62" r="1.4"/><circle cx="1205.81" cy="1936.16" r="1.4"/><circle cx="1207.1" cy="1943.17" r="1.4"/><circle cx="1215.45" cy="1928.58" r="1.4"/><circle cx="1210.63" cy="1943.37" r="1.4"/><circle cx="1211.72" cy="1895.92" r="1.4"/><circle cx="1214.95" cy="1948.43" r="1.4"/><circle cx="1213.6" cy="1934.55" r="1.4"/><circle cx="1207.11" cy="1908.25" r="1.4"/><circle cx="1205.9" cy="1906.64" r="1.4"/><circle cx="1208.38" cy="1899.59" r="1.4"/><circle cx="1210.02" cy="1902.29" r="1.4"/><circle cx="1208.22" cy="1942.02" r="1.4"/><circle cx="1212.66" cy="1948.42" r="1.4"/><circle cx="1208.83" cy="1946.83" r="1.4"/><circle cx="1202.59" cy="1924.28" r="1.4"/><circle cx="1215.42" cy="1940.06" r="1.4"/><circle cx="1213.24" cy="1938.36" r="1.4"/><circle cx="1206.57" cy="1909.37" r="1.4"/><circle cx="1204.24" cy="1910.03" r="1.4"/><circle cx="1200.95" cy="1936.59" r="1.4"/><circle cx="1209.52" cy="1908.77" r="1.4"/><circle cx="1208.36" cy="1897.95" r="1.4"/><circle cx="1205.4" cy="1927.27" r="1.4"/><circle cx="1206.39" cy="1899.1" r="1.4"/><circle cx="1212.16" cy="1914.74" r="1.4"/><circle cx="1211.09" cy="1926.63" r="1.4"/><circle cx="1204.71" cy="1946.11" r="1.4"/><circle cx="1201.65" cy="1942.54" r="1.4"/><circle cx="1212.29" cy="1947.92" r="1.4"/><circle cx="1207.67" cy="1944.29" r="1.4"/><circle cx="1212.84" cy="1927.04" r="1.4"/><circle cx="1208.63" cy="1924.42" r="1.4"/><circle cx="1212.73" cy="1947.53" r="1.4"/><circle cx="1213.32" cy="1912.19" r="1.4"/><circle cx="1211.54" cy="1913.11" r="1.4"/><circle cx="1201.1" cy="1912.79" r="1.4"/><circle cx="1201.79" cy="1940.12" r="1.4"/><circle cx="1202.3" cy="1933.04" r="1.4"/><circle cx="1202.14" cy="1931.35" r="1.4"/><circle cx="1200.85" cy="1939.23" r="1.4"/><circle cx="1205.3" cy="1927.68" r="1.4"/><circle cx="1206.63" cy="1900.01" r="1.4"/><circle cx="1215.1" cy="1941.72" r="1.4"/><circle cx="1204.06" cy="1905.06" r="1.4"/><circle cx="1207.56" cy="1929.33" r="1.4"/><circle cx="1201.19" cy="1928.95" r="1.4"/><circle cx="1212.32" cy="1925.88" r="1.4"/><circle cx="1213.7" cy="1904.56" r="1.4"/><circle cx="1212.24" cy="1905.81" r="1.4"/><circle cx="1210.7" cy="1928.49" r="1.4"/><circle cx="1214.04" cy="1908.59" r="1.4"/><circle cx="1207.45" cy="1902.03" r="1.4"/><circle cx="1205.71" cy="1940.61" r="1.4"/><circle cx="1211.03" cy="1937.76" r="1.4"/><circle cx="1208.8" cy="1940.54" r="1.4"/><circle cx="1202.22" cy="1931.56" r="1.4"/><circle cx="1206.24" cy="1913.91" r="1.4"/><circle cx="1205.12" cy="1942.7" r="1.4"/><circle cx="1203.03" cy="1948.21" r="1.4"/><circle cx="1202.37" cy="1927.89" r="1.4"/><circle cx="1209.05" cy="1948.24" r="1.4"/><circle cx="1214.67" cy="1933.81" r="1.4"/><circle cx="1203.06" cy="1945.38" r="1.4"/><circle cx="1201.68" cy="1948.21" r="1.4"/><circle cx="1212.15" cy="1914.27" r="1.4"/><circle cx="1212.85" cy="1924.35" r="1.4"/><circle cx="1214.58" cy="1926.18" r="1.4"/><circle cx="1208.85" cy="1913.69" r="1.4"/><circle cx="1207.2" cy="1941.52" r="1.4"/><circle cx="1213.14" cy="1926.91" r="1.4"/><circle cx="1205.22" cy="1938.78" r="1.4"/><circle cx="1208.85" cy="1945.73" r="1.4"/><circle cx="1210.78" cy="1939.26" r="1.4"/><circle cx="1202.21" cy="1914.95" r="1.4"/><circle cx="1206.91" cy="1899.81" r="1.4"/><circle cx="1213.65" cy="1934.11" r="1.4"/><circle cx="1210.97" cy="1934.71" r="1.4"/><circle cx="1208.58" cy="1943.57" r="1.4"/><circle cx="1210.41" cy="1945.27" r="1.4"/><circle cx="1201.41" cy="1910.9" r="1.4"/><circle cx="1207.84" cy="1921.74" r="1.4"/><circle cx="1203.07" cy="1926.73" r="1.4"/><circle cx="1207.54" cy="1936.36" r="1.4"/><circle cx="1210.92" cy="1945.73" r="1.4"/><circle cx="1205.15" cy="1938.1" r="1.4"/><circle cx="1205.34" cy="1944.93" r="1.4"/><circle cx="1202.24" cy="1935.65" r="1.4"/><circle cx="1214.98" cy="1932.71" r="1.4"/><circle cx="1205.94" cy="1945.05" r="1.4"/><circle cx="1211.03" cy="1939.76" r="1.4"/></g>
<line x1="1208.3" y1="1949.11" x2="1208.3" y2="1985.99" stroke="#231f20" stroke-width="1.8"/>
<line x1="1208.3" y1="2010.84" x2="1208.3" y2="2023.91" stroke="#231f20" stroke-width="1.3"/>
<rect x="1183.3" y="1985.99" width="50" height="24.84" fill="#b06a58"/>
<line x1="1183.3" y1="2001.13" x2="1233.3" y2="2001.13" stroke="#1a1718" stroke-width="2.2"/>
<rect x="1369.4" y="1695.7" width="169" height="349.1" fill="none" stroke="#3a3738" stroke-width="1.4"/>
<line x1="1363.9" y1="2028.8" x2="1369.4" y2="2028.8" stroke="#3a3738" stroke-width="1.3"/>
<text x="1337.59" y="2037.15" font-size="23.6" textLength="13.91" lengthAdjust="spacingAndGlyphs">0</text>
<line x1="1363.9" y1="1936.7" x2="1369.4" y2="1936.7" stroke="#3a3738" stroke-width="1.3"/>
<text x="1323.68" y="1945.05" font-size="23.6" textLength="27.82" lengthAdjust="spacingAndGlyphs">20</text>
<line x1="1363.9" y1="1844.6" x2="1369.4" y2="1844.6" stroke="#3a3738" stroke-width="1.3"/>
<text x="1323.68" y="1852.95" font-size="23.6" textLength="27.82" lengthAdjust="spacingAndGlyphs">40</text>
<line x1="1363.9" y1="1752.5" x2="1369.4" y2="1752.5" stroke="#3a3738" stroke-width="1.3"/>
<text x="1323.68" y="1760.85" font-size="23.6" textLength="27.82" lengthAdjust="spacingAndGlyphs">60</text>
<line x1="1415.4" y1="2044.8" x2="1415.4" y2="2050.8" stroke="#3a3738" stroke-width="1.3"/>
<g fill="#1d1d1f" fill-opacity="0.39" stroke="#1d1d1f" stroke-opacity="0.23" stroke-width="0.9"><circle cx="1409.9" cy="1769.54" r="1.4"/><circle cx="1421.4" cy="1782.43" r="1.4"/><circle cx="1412.9" cy="1789.8" r="1.4"/><circle cx="1413.9" cy="1791.64" r="1.4"/><circle cx="1419.4" cy="1800.39" r="1.4"/><circle cx="1420.4" cy="1804.54" r="1.4"/><circle cx="1418.4" cy="1810.06" r="1.4"/><circle cx="1418.9" cy="1813.75" r="1.4"/><circle cx="1420.4" cy="1815.59" r="1.4"/><circle cx="1408.9" cy="1819.73" r="1.4"/><circle cx="1409.9" cy="1821.57" r="1.4"/><circle cx="1411.9" cy="1825.26" r="1.4"/><circle cx="1422.4" cy="1828.02" r="1.4"/><circle cx="1416.4" cy="1831.71" r="1.4"/><circle cx="1420.4" cy="1832.17" r="1.4"/><circle cx="1418.9" cy="1834.01" r="1.4"/><circle cx="1421.9" cy="1835.39" r="1.4"/><circle cx="1419.9" cy="1838.61" r="1.4"/><circle cx="1408.9" cy="1841.38" r="1.4"/><circle cx="1414.4" cy="1842.3" r="1.4"/><circle cx="1416.9" cy="1843.22" r="1.4"/><circle cx="1415.4" cy="1844.6" r="1.4"/><circle cx="1418.4" cy="1841.84" r="1.4"/><circle cx="1421.9" cy="1842.3" r="1.4"/><circle cx="1409.4" cy="1849.2" r="1.4"/><circle cx="1411.4" cy="1850.13" r="1.4"/><circle cx="1413.4" cy="1851.05" r="1.4"/><circle cx="1416.4" cy="1850.59" r="1.4"/><circle cx="1419.4" cy="1850.13" r="1.4"/><circle cx="1421.9" cy="1851.51" r="1.4"/><circle cx="1417.4" cy="1847.82" r="1.4"/><circle cx="1420.9" cy="1846.44" r="1.4"/></g>
<line x1="1415.4" y1="1863.02" x2="1415.4" y2="1936.7" stroke="#231f20" stroke-width="1.3"/>
<line x1="1415.4" y1="1991.96" x2="1415.4" y2="2010.38" stroke="#231f20" stroke-width="1.3"/>
<rect x="1390.4" y="1936.7" width="50" height="55.26" fill="#85b283"/>
<line x1="1390.4" y1="1973.54" x2="1440.4" y2="1973.54" stroke="#1a1718" stroke-width="2.2"/>
<line x1="1492.1" y1="2044.8" x2="1492.1" y2="2050.8" stroke="#3a3738" stroke-width="1.3"/>
<g fill="#1d1d1f" fill-opacity="0.39" stroke="#1d1d1f" stroke-opacity="0.23" stroke-width="0.9"><circle cx="1491.6" cy="1747.89" r="1.4"/><circle cx="1490.1" cy="1783.35" r="1.4"/><circle cx="1486.1" cy="1794.87" r="1.4"/><circle cx="1495.1" cy="1805" r="1.4"/><circle cx="1496.6" cy="1806.84" r="1.4"/><circle cx="1486.1" cy="1808.22" r="1.4"/><circle cx="1488.1" cy="1820.65" r="1.4"/><circle cx="1489.6" cy="1821.57" r="1.4"/><circle cx="1493.1" cy="1820.19" r="1.4"/><circle cx="1496.1" cy="1819.73" r="1.4"/><circle cx="1487.1" cy="1823.88" r="1.4"/><circle cx="1489.1" cy="1825.26" r="1.4"/><circle cx="1492.1" cy="1826.18" r="1.4"/><circle cx="1494.6" cy="1828.02" r="1.4"/><circle cx="1496.1" cy="1828.94" r="1.4"/><circle cx="1498.6" cy="1829.4" r="1.4"/><circle cx="1485.1" cy="1831.25" r="1.4"/><circle cx="1489.1" cy="1831.71" r="1.4"/><circle cx="1493.1" cy="1832.17" r="1.4"/><circle cx="1497.1" cy="1834.47" r="1.4"/><circle cx="1486.1" cy="1842.3" r="1.4"/><circle cx="1486.6" cy="1843.22" r="1.4"/><circle cx="1497.6" cy="1841.38" r="1.4"/><circle cx="1499.1" cy="1841.84" r="1.4"/><circle cx="1499.6" cy="1845.52" r="1.4"/><circle cx="1489.1" cy="1850.59" r="1.4"/><circle cx="1492.1" cy="1851.51" r="1.4"/><circle cx="1494.1" cy="1850.59" r="1.4"/><circle cx="1496.6" cy="1851.05" r="1.4"/><circle cx="1497.6" cy="1848.28" r="1.4"/></g>
<line x1="1492.1" y1="1863.02" x2="1492.1" y2="1936.7" stroke="#231f20" stroke-width="1.3"/>
<line x1="1492.1" y1="1991.96" x2="1492.1" y2="2010.38" stroke="#231f20" stroke-width="1.3"/>
<rect x="1467.1" y="1936.7" width="50" height="55.26" fill="#85b283"/>
<line x1="1467.1" y1="1973.54" x2="1517.1" y2="1973.54" stroke="#1a1718" stroke-width="2.2"/>
<rect x="1641.4" y="1695.7" width="169.3" height="349.1" fill="none" stroke="#3a3738" stroke-width="1.4"/>
<line x1="1635.9" y1="2028.8" x2="1641.4" y2="2028.8" stroke="#3a3738" stroke-width="1.3"/>
<text x="1609.59" y="2037.15" font-size="23.6" textLength="13.91" lengthAdjust="spacingAndGlyphs">0</text>
<line x1="1635.9" y1="1963" x2="1641.4" y2="1963" stroke="#3a3738" stroke-width="1.3"/>
<text x="1595.68" y="1971.35" font-size="23.6" textLength="27.82" lengthAdjust="spacingAndGlyphs">10</text>
<line x1="1635.9" y1="1897.2" x2="1641.4" y2="1897.2" stroke="#3a3738" stroke-width="1.3"/>
<text x="1595.68" y="1905.55" font-size="23.6" textLength="27.82" lengthAdjust="spacingAndGlyphs">20</text>
<line x1="1635.9" y1="1831.4" x2="1641.4" y2="1831.4" stroke="#3a3738" stroke-width="1.3"/>
<text x="1595.68" y="1839.75" font-size="23.6" textLength="27.82" lengthAdjust="spacingAndGlyphs">30</text>
<line x1="1635.9" y1="1765.6" x2="1641.4" y2="1765.6" stroke="#3a3738" stroke-width="1.3"/>
<text x="1595.68" y="1773.95" font-size="23.6" textLength="27.82" lengthAdjust="spacingAndGlyphs">40</text>
<line x1="1635.9" y1="1699.8" x2="1641.4" y2="1699.8" stroke="#3a3738" stroke-width="1.3"/>
<text x="1595.68" y="1708.15" font-size="23.6" textLength="27.82" lengthAdjust="spacingAndGlyphs">50</text>
<line x1="1687.6" y1="2044.8" x2="1687.6" y2="2050.8" stroke="#3a3738" stroke-width="1.3"/>
<g fill="#1d1d1f" fill-opacity="0.39" stroke="#1d1d1f" stroke-opacity="0.23" stroke-width="0.9"><circle cx="1690.6" cy="1837.98" r="1.4"/><circle cx="1693.6" cy="1837.98" r="1.4"/><circle cx="1692.6" cy="1846.53" r="1.4"/><circle cx="1682.1" cy="1852.46" r="1.4"/><circle cx="1681.1" cy="1856.4" r="1.4"/><circle cx="1688.1" cy="1857.72" r="1.4"/><circle cx="1680.6" cy="1866.27" r="1.4"/><circle cx="1685.6" cy="1868.91" r="1.4"/><circle cx="1683.1" cy="1872.2" r="1.4"/><circle cx="1685.6" cy="1876.14" r="1.4"/><circle cx="1681.57" cy="1913.91" r="1.4"/><circle cx="1690.39" cy="1920.64" r="1.4"/><circle cx="1693.18" cy="1914.4" r="1.4"/><circle cx="1683.52" cy="1930.91" r="1.4"/><circle cx="1684.07" cy="1922.51" r="1.4"/><circle cx="1687.64" cy="1880.26" r="1.4"/><circle cx="1687.7" cy="1919.79" r="1.4"/><circle cx="1686.87" cy="1907.09" r="1.4"/><circle cx="1689.33" cy="1900.22" r="1.4"/><circle cx="1686.49" cy="1916.92" r="1.4"/><circle cx="1686.69" cy="1928.44" r="1.4"/><circle cx="1685.58" cy="1921.63" r="1.4"/><circle cx="1688.96" cy="1904.63" r="1.4"/><circle cx="1686.79" cy="1926.87" r="1.4"/><circle cx="1680.72" cy="1892.48" r="1.4"/><circle cx="1691.43" cy="1929.23" r="1.4"/><circle cx="1681.32" cy="1930.61" r="1.4"/><circle cx="1684.37" cy="1902.79" r="1.4"/><circle cx="1680.61" cy="1900.25" r="1.4"/><circle cx="1682.52" cy="1914.19" r="1.4"/><circle cx="1690.5" cy="1920.46" r="1.4"/><circle cx="1692.9" cy="1911.04" r="1.4"/><circle cx="1692.81" cy="1903.37" r="1.4"/><circle cx="1687.22" cy="1926.8" r="1.4"/><circle cx="1689.47" cy="1921.03" r="1.4"/><circle cx="1693.38" cy="1929.15" r="1.4"/><circle cx="1691.86" cy="1918.66" r="1.4"/><circle cx="1692.95" cy="1917.7" r="1.4"/><circle cx="1691.31" cy="1928.49" r="1.4"/><circle cx="1686.97" cy="1893.24" r="1.4"/><circle cx="1682.7" cy="1922.83" r="1.4"/><circle cx="1694.08" cy="1916.61" r="1.4"/><circle cx="1683.93" cy="1917.1" r="1.4"/><circle cx="1686.66" cy="1903.36" r="1.4"/><circle cx="1686.92" cy="1903.83" r="1.4"/><circle cx="1680.63" cy="1922.48" r="1.4"/><circle cx="1689.98" cy="1880.88" r="1.4"/><circle cx="1687.59" cy="1924.24" r="1.4"/><circle cx="1687.65" cy="1906.29" r="1.4"/><circle cx="1684.7" cy="1886.89" r="1.4"/><circle cx="1689.28" cy="1920.16" r="1.4"/><circle cx="1694.11" cy="1927.35" r="1.4"/><circle cx="1687.59" cy="1931.32" r="1.4"/><circle cx="1687.99" cy="1923.02" r="1.4"/><circle cx="1683.46" cy="1931.31" r="1.4"/><circle cx="1683.42" cy="1885.57" r="1.4"/><circle cx="1680.59" cy="1914.22" r="1.4"/><circle cx="1682.98" cy="1928.78" r="1.4"/><circle cx="1683.82" cy="1921.37" r="1.4"/><circle cx="1681.75" cy="1930.68" r="1.4"/><circle cx="1693.91" cy="1891.76" r="1.4"/><circle cx="1691.84" cy="1877.83" r="1.4"/><circle cx="1682.64" cy="1923.78" r="1.4"/><circle cx="1681.08" cy="1923.17" r="1.4"/><circle cx="1690.9" cy="1926.87" r="1.4"/><circle cx="1680.26" cy="1912.2" r="1.4"/><circle cx="1692.84" cy="1921.68" r="1.4"/><circle cx="1691.07" cy="1892.99" r="1.4"/><circle cx="1685.85" cy="1907.97" r="1.4"/><circle cx="1684.34" cy="1906.85" r="1.4"/><circle cx="1684" cy="1931.6" r="1.4"/><circle cx="1681.9" cy="1914.14" r="1.4"/><circle cx="1683.81" cy="1930.18" r="1.4"/><circle cx="1694.46" cy="1918.78" r="1.4"/><circle cx="1692.65" cy="1912.44" r="1.4"/><circle cx="1688.99" cy="1891.27" r="1.4"/><circle cx="1685.99" cy="1920.91" r="1.4"/><circle cx="1689.61" cy="1921.13" r="1.4"/><circle cx="1684.53" cy="1885.2" r="1.4"/><circle cx="1680.23" cy="1927.81" r="1.4"/><circle cx="1683.52" cy="1906.03" r="1.4"/><circle cx="1684.63" cy="1932.56" r="1.4"/><circle cx="1683.18" cy="1924.85" r="1.4"/><circle cx="1688.87" cy="1899.54" r="1.4"/><circle cx="1691.06" cy="1922.67" r="1.4"/><circle cx="1693.92" cy="1925.7" r="1.4"/><circle cx="1688.98" cy="1928.88" r="1.4"/><circle cx="1691.09" cy="1895.63" r="1.4"/><circle cx="1693.17" cy="1912.43" r="1.4"/><circle cx="1690.46" cy="1902.58" r="1.4"/><circle cx="1682.9" cy="1930.23" r="1.4"/><circle cx="1688.28" cy="1913.67" r="1.4"/><circle cx="1691.23" cy="1929.69" r="1.4"/><circle cx="1687.23" cy="1919.8" r="1.4"/><circle cx="1692.68" cy="1910.29" r="1.4"/><circle cx="1688.5" cy="1921.8" r="1.4"/><circle cx="1689.93" cy="1904.46" r="1.4"/><circle cx="1684.29" cy="1921.35" r="1.4"/></g>
<line x1="1687.6" y1="1936.68" x2="1687.6" y2="1982.74" stroke="#231f20" stroke-width="1.3"/>
<line x1="1687.6" y1="2015.64" x2="1687.6" y2="2022.22" stroke="#231f20" stroke-width="1.3"/>
<rect x="1662.6" y="1982.74" width="50" height="32.9" fill="#3d66b0"/>
<line x1="1662.6" y1="2002.48" x2="1712.6" y2="2002.48" stroke="#1a1718" stroke-width="2.2"/>
<line x1="1764.3" y1="2044.8" x2="1764.3" y2="2050.8" stroke="#3a3738" stroke-width="1.3"/>
<g fill="#1d1d1f" fill-opacity="0.39" stroke="#1d1d1f" stroke-opacity="0.23" stroke-width="0.9"><circle cx="1771.8" cy="1752.44" r="1.4"/><circle cx="1759.3" cy="1819.56" r="1.4"/><circle cx="1766.3" cy="1824.82" r="1.4"/><circle cx="1757.8" cy="1829.43" r="1.4"/><circle cx="1762.8" cy="1834.03" r="1.4"/><circle cx="1763.3" cy="1835.35" r="1.4"/><circle cx="1757.8" cy="1849.17" r="1.4"/><circle cx="1758.3" cy="1862.98" r="1.4"/><circle cx="1757.3" cy="1864.96" r="1.4"/><circle cx="1765.82" cy="1909.45" r="1.4"/><circle cx="1758.81" cy="1898.55" r="1.4"/><circle cx="1765.2" cy="1910.68" r="1.4"/><circle cx="1758.33" cy="1920.9" r="1.4"/><circle cx="1764.28" cy="1926.24" r="1.4"/><circle cx="1757.27" cy="1917.28" r="1.4"/><circle cx="1759.22" cy="1918.22" r="1.4"/><circle cx="1770.45" cy="1912.85" r="1.4"/><circle cx="1762.08" cy="1924.55" r="1.4"/><circle cx="1766.17" cy="1894.39" r="1.4"/><circle cx="1760.23" cy="1926.24" r="1.4"/><circle cx="1770.22" cy="1917.8" r="1.4"/><circle cx="1760.66" cy="1910.87" r="1.4"/><circle cx="1764.08" cy="1908.94" r="1.4"/><circle cx="1766.81" cy="1922.39" r="1.4"/><circle cx="1763.96" cy="1891.96" r="1.4"/><circle cx="1768.36" cy="1905.76" r="1.4"/><circle cx="1757.46" cy="1900.9" r="1.4"/><circle cx="1766.73" cy="1907.6" r="1.4"/><circle cx="1767.06" cy="1915.84" r="1.4"/><circle cx="1766.05" cy="1914.29" r="1.4"/><circle cx="1766.85" cy="1900.8" r="1.4"/><circle cx="1767.44" cy="1893.21" r="1.4"/><circle cx="1760.26" cy="1893.55" r="1.4"/><circle cx="1766.11" cy="1900.81" r="1.4"/><circle cx="1768.11" cy="1925.09" r="1.4"/><circle cx="1764.18" cy="1919.79" r="1.4"/><circle cx="1767.63" cy="1906.55" r="1.4"/><circle cx="1763.82" cy="1887.23" r="1.4"/><circle cx="1765.3" cy="1910.83" r="1.4"/><circle cx="1767.51" cy="1916.13" r="1.4"/><circle cx="1768.46" cy="1924.4" r="1.4"/><circle cx="1764.9" cy="1898" r="1.4"/><circle cx="1769.7" cy="1884.25" r="1.4"/><circle cx="1764.1" cy="1922.48" r="1.4"/><circle cx="1767.28" cy="1900.71" r="1.4"/><circle cx="1769.23" cy="1882.46" r="1.4"/><circle cx="1763.2" cy="1924.99" r="1.4"/><circle cx="1761.8" cy="1888.28" r="1.4"/><circle cx="1764.78" cy="1886.7" r="1.4"/><circle cx="1766.36" cy="1896.74" r="1.4"/><circle cx="1771.36" cy="1892.61" r="1.4"/><circle cx="1764.2" cy="1908.23" r="1.4"/><circle cx="1765.23" cy="1897.56" r="1.4"/><circle cx="1771.19" cy="1925.44" r="1.4"/><circle cx="1764.29" cy="1916.33" r="1.4"/><circle cx="1759.66" cy="1925.63" r="1.4"/><circle cx="1761.28" cy="1917.94" r="1.4"/><circle cx="1760.42" cy="1881.19" r="1.4"/><circle cx="1765.33" cy="1896.74" r="1.4"/><circle cx="1761.73" cy="1909.12" r="1.4"/><circle cx="1762.26" cy="1918.62" r="1.4"/><circle cx="1758.59" cy="1926.81" r="1.4"/><circle cx="1761.52" cy="1922.41" r="1.4"/><circle cx="1770.93" cy="1886.87" r="1.4"/><circle cx="1760.55" cy="1914.87" r="1.4"/><circle cx="1766.24" cy="1917.33" r="1.4"/><circle cx="1758.56" cy="1909.02" r="1.4"/><circle cx="1760.83" cy="1906.55" r="1.4"/><circle cx="1768.58" cy="1922.56" r="1.4"/><circle cx="1763.39" cy="1923.77" r="1.4"/><circle cx="1764.94" cy="1887.15" r="1.4"/><circle cx="1770.99" cy="1916.39" r="1.4"/><circle cx="1770.23" cy="1925.59" r="1.4"/><circle cx="1756.85" cy="1911.73" r="1.4"/><circle cx="1771.63" cy="1918.61" r="1.4"/><circle cx="1767.86" cy="1892.41" r="1.4"/><circle cx="1756.9" cy="1881.31" r="1.4"/><circle cx="1763.79" cy="1916.8" r="1.4"/><circle cx="1771.61" cy="1922.39" r="1.4"/><circle cx="1761.37" cy="1904.74" r="1.4"/><circle cx="1763.2" cy="1924.45" r="1.4"/><circle cx="1763.6" cy="1906.73" r="1.4"/><circle cx="1771.02" cy="1916.66" r="1.4"/><circle cx="1761.41" cy="1909.2" r="1.4"/><circle cx="1760.46" cy="1885.76" r="1.4"/><circle cx="1758.36" cy="1911.8" r="1.4"/><circle cx="1771.75" cy="1919.39" r="1.4"/><circle cx="1764.65" cy="1900.3" r="1.4"/><circle cx="1766.88" cy="1896.26" r="1.4"/><circle cx="1762.3" cy="1906.69" r="1.4"/><circle cx="1757.24" cy="1922.46" r="1.4"/><circle cx="1762.88" cy="1923.29" r="1.4"/><circle cx="1766.92" cy="1926.53" r="1.4"/><circle cx="1760.3" cy="1915.58" r="1.4"/><circle cx="1764.19" cy="1916.53" r="1.4"/><circle cx="1769.59" cy="1920.39" r="1.4"/><circle cx="1757.83" cy="1908.8" r="1.4"/><circle cx="1770.15" cy="1924.38" r="1.4"/><circle cx="1761.17" cy="1903.24" r="1.4"/><circle cx="1757.49" cy="1892.72" r="1.4"/><circle cx="1757.56" cy="1897" r="1.4"/><circle cx="1769.35" cy="1911.66" r="1.4"/><circle cx="1759.93" cy="1902.23" r="1.4"/><circle cx="1757.75" cy="1919.52" r="1.4"/><circle cx="1759.52" cy="1906.66" r="1.4"/><circle cx="1770.23" cy="1910.71" r="1.4"/><circle cx="1768.56" cy="1908.32" r="1.4"/><circle cx="1771.02" cy="1922.88" r="1.4"/><circle cx="1770.09" cy="1908.81" r="1.4"/><circle cx="1771.51" cy="1917.18" r="1.4"/><circle cx="1770.67" cy="1916.16" r="1.4"/><circle cx="1770.82" cy="1877.25" r="1.4"/><circle cx="1757.9" cy="1891.36" r="1.4"/><circle cx="1766.64" cy="1917.86" r="1.4"/><circle cx="1757.39" cy="1895.62" r="1.4"/><circle cx="1761.98" cy="1915.15" r="1.4"/><circle cx="1760.18" cy="1921.68" r="1.4"/></g>
<line x1="1764.3" y1="1930.1" x2="1764.3" y2="1976.16" stroke="#231f20" stroke-width="1.3"/>
<line x1="1764.3" y1="2009.06" x2="1764.3" y2="2022.22" stroke="#231f20" stroke-width="1.3"/>
<rect x="1739.3" y="1976.16" width="50" height="32.9" fill="#3d66b0"/>
<line x1="1739.3" y1="2002.48" x2="1789.3" y2="2002.48" stroke="#1a1718" stroke-width="2.2"/>
<text x="1119.7" y="1734.1" font-size="21.5"><tspan font-style="italic" textLength="14.77" lengthAdjust="spacingAndGlyphs">P</tspan><tspan x="1134.47" textLength="80.63" lengthAdjust="spacingAndGlyphs"> = 0.014</tspan></text>
<line x1="1126.1" y1="1743.2" x2="1207.9" y2="1743.2" stroke="#3a3738" stroke-width="1.3"/>
<text x="1662.4" y="1735" font-size="21.5"><tspan font-style="italic" textLength="14.34" lengthAdjust="spacingAndGlyphs">P</tspan><tspan x="1676.74" textLength="102.8" lengthAdjust="spacingAndGlyphs"> = 4.3 × 10</tspan><tspan x="1780.04" dy="-11.8" font-size="15.26" textLength="16.66" lengthAdjust="spacingAndGlyphs">−5</tspan></text>
<line x1="1687.3" y1="1743.2" x2="1768.8" y2="1743.2" stroke="#3a3738" stroke-width="1.3"/>
<text x="1106.7" y="2080.5" font-size="25.5" textLength="50.9" lengthAdjust="spacingAndGlyphs">UNT</text>
<text x="1187.4" y="2080.5" font-size="25.5" textLength="41.5" lengthAdjust="spacingAndGlyphs">IAA</text>
<text x="1390.2" y="2080.5" font-size="25.5" textLength="50.5" lengthAdjust="spacingAndGlyphs">UNT</text>
<text x="1471.1" y="2080.5" font-size="25.5" textLength="41.5" lengthAdjust="spacingAndGlyphs">IAA</text>
<text x="1662.4" y="2080.5" font-size="25.5" textLength="50.6" lengthAdjust="spacingAndGlyphs">UNT</text>
<text x="1743.4" y="2080.5" font-size="25.5" textLength="41.4" lengthAdjust="spacingAndGlyphs">IAA</text>
</svg>
</body></html>
